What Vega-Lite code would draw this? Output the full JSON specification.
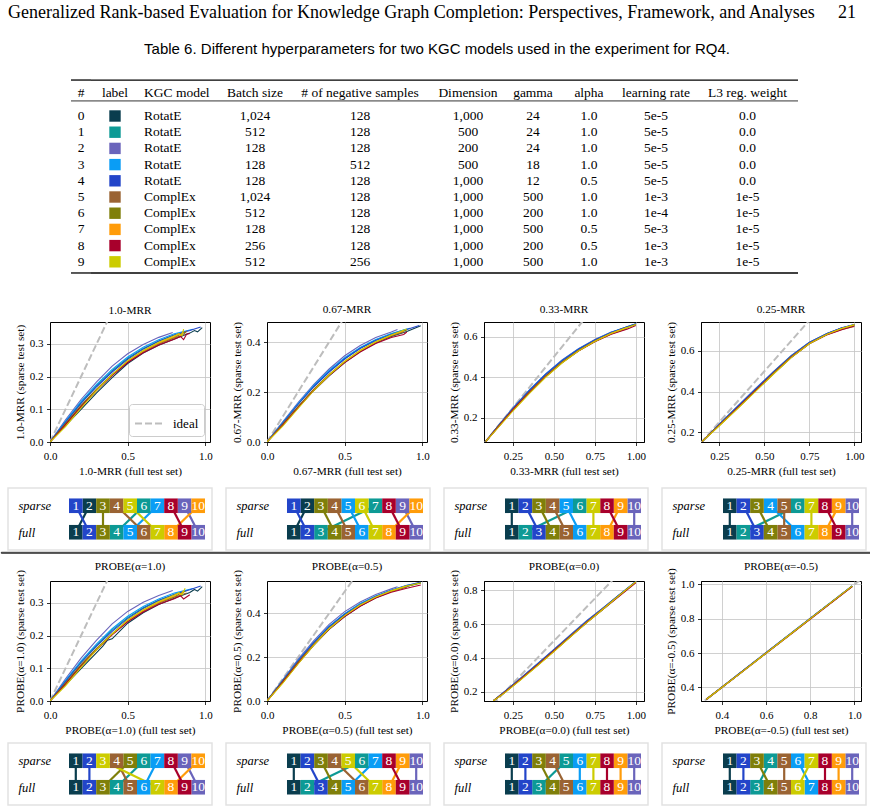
{
  "$schema": "https://vega.github.io/schema/vega-lite/v6.json",
  "background": "white",
  "padding": 0,
  "spacing": 0,
  "bounds": "full",
  "resolve": {"scale": {"strokeDash": "independent"}, "legend": {"strokeDash": "independent"}},
  "config": {
    "view": {"stroke": null},
    "font": "Liberation Serif",
    "text": {"color": "black", "font": "Liberation Serif", "fontSize": 13.5},
    "rule": {"color": "black"},
    "axis": {
      "labelFont": "Liberation Serif", "labelFontSize": 11, "labelColor": "black",
      "titleFont": "Liberation Serif", "titleFontSize": 11.3, "titleFontWeight": "normal", "titleColor": "black",
      "domainColor": "black", "domainWidth": 1, "tickColor": "black", "tickSize": 3.5, "tickWidth": 0.8,
      "gridColor": "#c4c4c4", "gridWidth": 0.8, "labelPadding": 3.5, "titlePadding": 4,
      "labelFlush": false, "labelOverlap": false
    },
    "title": {"font": "Liberation Serif", "fontSize": 11.3, "fontWeight": "normal", "color": "black", "offset": 6}
  },
  "datasets": {
    "table": [
      {"id": 0, "model": "RotatE", "batch": "1,024", "neg": "128", "dim": "1,000", "gamma": "24", "alpha": "1.0", "lr": "5e-5", "l3": "0.0"},
      {"id": 1, "model": "RotatE", "batch": "512", "neg": "128", "dim": "500", "gamma": "24", "alpha": "1.0", "lr": "5e-5", "l3": "0.0"},
      {"id": 2, "model": "RotatE", "batch": "128", "neg": "128", "dim": "200", "gamma": "24", "alpha": "1.0", "lr": "5e-5", "l3": "0.0"},
      {"id": 3, "model": "RotatE", "batch": "128", "neg": "512", "dim": "500", "gamma": "18", "alpha": "1.0", "lr": "5e-5", "l3": "0.0"},
      {"id": 4, "model": "RotatE", "batch": "128", "neg": "128", "dim": "1,000", "gamma": "12", "alpha": "0.5", "lr": "5e-5", "l3": "0.0"},
      {"id": 5, "model": "ComplEx", "batch": "1,024", "neg": "128", "dim": "1,000", "gamma": "500", "alpha": "1.0", "lr": "1e-3", "l3": "1e-5"},
      {"id": 6, "model": "ComplEx", "batch": "512", "neg": "128", "dim": "1,000", "gamma": "200", "alpha": "1.0", "lr": "1e-4", "l3": "1e-5"},
      {"id": 7, "model": "ComplEx", "batch": "128", "neg": "128", "dim": "1,000", "gamma": "500", "alpha": "0.5", "lr": "5e-3", "l3": "1e-5"},
      {"id": 8, "model": "ComplEx", "batch": "256", "neg": "128", "dim": "1,000", "gamma": "200", "alpha": "0.5", "lr": "1e-3", "l3": "1e-5"},
      {"id": 9, "model": "ComplEx", "batch": "512", "neg": "256", "dim": "1,000", "gamma": "500", "alpha": "1.0", "lr": "1e-3", "l3": "1e-5"}
    ],
    "ideal": [{"x": 0, "y": 0}, {"x": 1.05, "y": 1.05}],
    "ranks": [
      {"p": "1.0-MRR", "m": 0, "sparse": 2, "full": 1}, {"p": "1.0-MRR", "m": 1, "sparse": 6, "full": 4}, {"p": "1.0-MRR", "m": 2, "sparse": 9, "full": 10}, {"p": "1.0-MRR", "m": 3, "sparse": 7, "full": 5}, {"p": "1.0-MRR", "m": 4, "sparse": 1, "full": 2},
      {"p": "1.0-MRR", "m": 5, "sparse": 4, "full": 6}, {"p": "1.0-MRR", "m": 6, "sparse": 3, "full": 3}, {"p": "1.0-MRR", "m": 7, "sparse": 10, "full": 8}, {"p": "1.0-MRR", "m": 8, "sparse": 8, "full": 9}, {"p": "1.0-MRR", "m": 9, "sparse": 5, "full": 7},
      {"p": "0.67-MRR", "m": 0, "sparse": 2, "full": 1}, {"p": "0.67-MRR", "m": 1, "sparse": 7, "full": 3}, {"p": "0.67-MRR", "m": 2, "sparse": 9, "full": 10}, {"p": "0.67-MRR", "m": 3, "sparse": 5, "full": 6}, {"p": "0.67-MRR", "m": 4, "sparse": 1, "full": 2},
      {"p": "0.67-MRR", "m": 5, "sparse": 4, "full": 5}, {"p": "0.67-MRR", "m": 6, "sparse": 3, "full": 4}, {"p": "0.67-MRR", "m": 7, "sparse": 10, "full": 8}, {"p": "0.67-MRR", "m": 8, "sparse": 8, "full": 9}, {"p": "0.67-MRR", "m": 9, "sparse": 6, "full": 7},
      {"p": "0.33-MRR", "m": 0, "sparse": 1, "full": 1}, {"p": "0.33-MRR", "m": 1, "sparse": 6, "full": 2}, {"p": "0.33-MRR", "m": 2, "sparse": 10, "full": 10}, {"p": "0.33-MRR", "m": 3, "sparse": 5, "full": 6}, {"p": "0.33-MRR", "m": 4, "sparse": 2, "full": 3},
      {"p": "0.33-MRR", "m": 5, "sparse": 4, "full": 5}, {"p": "0.33-MRR", "m": 6, "sparse": 3, "full": 4}, {"p": "0.33-MRR", "m": 7, "sparse": 9, "full": 8}, {"p": "0.33-MRR", "m": 8, "sparse": 8, "full": 9}, {"p": "0.33-MRR", "m": 9, "sparse": 7, "full": 7},
      {"p": "0.25-MRR", "m": 0, "sparse": 1, "full": 1}, {"p": "0.25-MRR", "m": 1, "sparse": 6, "full": 2}, {"p": "0.25-MRR", "m": 2, "sparse": 10, "full": 10}, {"p": "0.25-MRR", "m": 3, "sparse": 4, "full": 6}, {"p": "0.25-MRR", "m": 4, "sparse": 2, "full": 3},
      {"p": "0.25-MRR", "m": 5, "sparse": 5, "full": 5}, {"p": "0.25-MRR", "m": 6, "sparse": 3, "full": 4}, {"p": "0.25-MRR", "m": 7, "sparse": 9, "full": 8}, {"p": "0.25-MRR", "m": 8, "sparse": 8, "full": 9}, {"p": "0.25-MRR", "m": 9, "sparse": 7, "full": 7},
      {"p": "PROBE(α=1.0)", "m": 0, "sparse": 1, "full": 1}, {"p": "PROBE(α=1.0)", "m": 1, "sparse": 6, "full": 4}, {"p": "PROBE(α=1.0)", "m": 2, "sparse": 9, "full": 10}, {"p": "PROBE(α=1.0)", "m": 3, "sparse": 7, "full": 6}, {"p": "PROBE(α=1.0)", "m": 4, "sparse": 2, "full": 2},
      {"p": "PROBE(α=1.0)", "m": 5, "sparse": 4, "full": 5}, {"p": "PROBE(α=1.0)", "m": 6, "sparse": 5, "full": 3}, {"p": "PROBE(α=1.0)", "m": 7, "sparse": 10, "full": 8}, {"p": "PROBE(α=1.0)", "m": 8, "sparse": 8, "full": 9}, {"p": "PROBE(α=1.0)", "m": 9, "sparse": 3, "full": 7},
      {"p": "PROBE(α=0.5)", "m": 0, "sparse": 1, "full": 1}, {"p": "PROBE(α=0.5)", "m": 1, "sparse": 6, "full": 2}, {"p": "PROBE(α=0.5)", "m": 2, "sparse": 10, "full": 10}, {"p": "PROBE(α=0.5)", "m": 3, "sparse": 7, "full": 5}, {"p": "PROBE(α=0.5)", "m": 4, "sparse": 2, "full": 3},
      {"p": "PROBE(α=0.5)", "m": 5, "sparse": 4, "full": 6}, {"p": "PROBE(α=0.5)", "m": 6, "sparse": 3, "full": 4}, {"p": "PROBE(α=0.5)", "m": 7, "sparse": 9, "full": 8}, {"p": "PROBE(α=0.5)", "m": 8, "sparse": 8, "full": 9}, {"p": "PROBE(α=0.5)", "m": 9, "sparse": 5, "full": 7},
      {"p": "PROBE(α=0.0)", "m": 0, "sparse": 1, "full": 1}, {"p": "PROBE(α=0.0)", "m": 1, "sparse": 5, "full": 3}, {"p": "PROBE(α=0.0)", "m": 2, "sparse": 10, "full": 10}, {"p": "PROBE(α=0.0)", "m": 3, "sparse": 6, "full": 6}, {"p": "PROBE(α=0.0)", "m": 4, "sparse": 2, "full": 2},
      {"p": "PROBE(α=0.0)", "m": 5, "sparse": 4, "full": 5}, {"p": "PROBE(α=0.0)", "m": 6, "sparse": 3, "full": 4}, {"p": "PROBE(α=0.0)", "m": 7, "sparse": 9, "full": 9}, {"p": "PROBE(α=0.0)", "m": 8, "sparse": 8, "full": 8}, {"p": "PROBE(α=0.0)", "m": 9, "sparse": 7, "full": 7},
      {"p": "PROBE(α=-0.5)", "m": 0, "sparse": 1, "full": 1}, {"p": "PROBE(α=-0.5)", "m": 1, "sparse": 4, "full": 3}, {"p": "PROBE(α=-0.5)", "m": 2, "sparse": 10, "full": 10}, {"p": "PROBE(α=-0.5)", "m": 3, "sparse": 6, "full": 7}, {"p": "PROBE(α=-0.5)", "m": 4, "sparse": 2, "full": 2},
      {"p": "PROBE(α=-0.5)", "m": 5, "sparse": 5, "full": 5}, {"p": "PROBE(α=-0.5)", "m": 6, "sparse": 3, "full": 4}, {"p": "PROBE(α=-0.5)", "m": 7, "sparse": 9, "full": 9}, {"p": "PROBE(α=-0.5)", "m": 8, "sparse": 8, "full": 8}, {"p": "PROBE(α=-0.5)", "m": 9, "sparse": 7, "full": 6}
    ],
    "curves": [
      {"p":"1.0-MRR","m":0,"x":0,"y":0},{"p":"1.0-MRR","m":0,"x":0.1,"y":0.05},{"p":"1.0-MRR","m":0,"x":0.2,"y":0.1},{"p":"1.0-MRR","m":0,"x":0.3,"y":0.15},{"p":"1.0-MRR","m":0,"x":0.4,"y":0.197},{"p":"1.0-MRR","m":0,"x":0.5,"y":0.24},{"p":"1.0-MRR","m":0,"x":0.6,"y":0.272},{"p":"1.0-MRR","m":0,"x":0.7,"y":0.296},{"p":"1.0-MRR","m":0,"x":0.8,"y":0.315},{"p":"1.0-MRR","m":0,"x":0.9,"y":0.333},{"p":"1.0-MRR","m":0,"x":0.93,"y":0.341},{"p":"1.0-MRR","m":0,"x":0.95,"y":0.337},{"p":"1.0-MRR","m":0,"x":0.98,"y":0.35},
      {"p":"1.0-MRR","m":1,"x":0,"y":0},{"p":"1.0-MRR","m":1,"x":0.1,"y":0.062},{"p":"1.0-MRR","m":1,"x":0.2,"y":0.121},{"p":"1.0-MRR","m":1,"x":0.3,"y":0.172},{"p":"1.0-MRR","m":1,"x":0.4,"y":0.218},{"p":"1.0-MRR","m":1,"x":0.5,"y":0.256},{"p":"1.0-MRR","m":1,"x":0.6,"y":0.286},{"p":"1.0-MRR","m":1,"x":0.7,"y":0.309},{"p":"1.0-MRR","m":1,"x":0.8,"y":0.327},{"p":"1.0-MRR","m":1,"x":0.88,"y":0.338},
      {"p":"1.0-MRR","m":2,"x":0,"y":0},{"p":"1.0-MRR","m":2,"x":0.1,"y":0.068},{"p":"1.0-MRR","m":2,"x":0.2,"y":0.13},{"p":"1.0-MRR","m":2,"x":0.3,"y":0.184},{"p":"1.0-MRR","m":2,"x":0.4,"y":0.232},{"p":"1.0-MRR","m":2,"x":0.5,"y":0.27},{"p":"1.0-MRR","m":2,"x":0.6,"y":0.298},{"p":"1.0-MRR","m":2,"x":0.7,"y":0.32},{"p":"1.0-MRR","m":2,"x":0.79,"y":0.335},
      {"p":"1.0-MRR","m":3,"x":0,"y":0},{"p":"1.0-MRR","m":3,"x":0.1,"y":0.064},{"p":"1.0-MRR","m":3,"x":0.2,"y":0.124},{"p":"1.0-MRR","m":3,"x":0.3,"y":0.176},{"p":"1.0-MRR","m":3,"x":0.4,"y":0.222},{"p":"1.0-MRR","m":3,"x":0.5,"y":0.26},{"p":"1.0-MRR","m":3,"x":0.6,"y":0.29},{"p":"1.0-MRR","m":3,"x":0.7,"y":0.313},{"p":"1.0-MRR","m":3,"x":0.8,"y":0.331},{"p":"1.0-MRR","m":3,"x":0.92,"y":0.345},
      {"p":"1.0-MRR","m":4,"x":0,"y":0},{"p":"1.0-MRR","m":4,"x":0.1,"y":0.06},{"p":"1.0-MRR","m":4,"x":0.2,"y":0.118},{"p":"1.0-MRR","m":4,"x":0.3,"y":0.169},{"p":"1.0-MRR","m":4,"x":0.4,"y":0.214},{"p":"1.0-MRR","m":4,"x":0.5,"y":0.253},{"p":"1.0-MRR","m":4,"x":0.6,"y":0.284},{"p":"1.0-MRR","m":4,"x":0.7,"y":0.308},{"p":"1.0-MRR","m":4,"x":0.8,"y":0.327},{"p":"1.0-MRR","m":4,"x":0.9,"y":0.341},{"p":"1.0-MRR","m":4,"x":0.97,"y":0.352},
      {"p":"1.0-MRR","m":5,"x":0,"y":0},{"p":"1.0-MRR","m":5,"x":0.1,"y":0.055},{"p":"1.0-MRR","m":5,"x":0.2,"y":0.11},{"p":"1.0-MRR","m":5,"x":0.3,"y":0.16},{"p":"1.0-MRR","m":5,"x":0.4,"y":0.205},{"p":"1.0-MRR","m":5,"x":0.5,"y":0.245},{"p":"1.0-MRR","m":5,"x":0.6,"y":0.276},{"p":"1.0-MRR","m":5,"x":0.7,"y":0.3},{"p":"1.0-MRR","m":5,"x":0.8,"y":0.318},{"p":"1.0-MRR","m":5,"x":0.86,"y":0.328},{"p":"1.0-MRR","m":5,"x":0.88,"y":0.34},
      {"p":"1.0-MRR","m":6,"x":0,"y":0},{"p":"1.0-MRR","m":6,"x":0.1,"y":0.056},{"p":"1.0-MRR","m":6,"x":0.2,"y":0.112},{"p":"1.0-MRR","m":6,"x":0.3,"y":0.162},{"p":"1.0-MRR","m":6,"x":0.4,"y":0.207},{"p":"1.0-MRR","m":6,"x":0.5,"y":0.247},{"p":"1.0-MRR","m":6,"x":0.6,"y":0.278},{"p":"1.0-MRR","m":6,"x":0.7,"y":0.302},{"p":"1.0-MRR","m":6,"x":0.8,"y":0.32},{"p":"1.0-MRR","m":6,"x":0.87,"y":0.336},
      {"p":"1.0-MRR","m":7,"x":0,"y":0},{"p":"1.0-MRR","m":7,"x":0.1,"y":0.05},{"p":"1.0-MRR","m":7,"x":0.2,"y":0.106},{"p":"1.0-MRR","m":7,"x":0.3,"y":0.158},{"p":"1.0-MRR","m":7,"x":0.4,"y":0.205},{"p":"1.0-MRR","m":7,"x":0.5,"y":0.246},{"p":"1.0-MRR","m":7,"x":0.6,"y":0.278},{"p":"1.0-MRR","m":7,"x":0.7,"y":0.303},{"p":"1.0-MRR","m":7,"x":0.8,"y":0.322},{"p":"1.0-MRR","m":7,"x":0.83,"y":0.331},{"p":"1.0-MRR","m":7,"x":0.84,"y":0.324},{"p":"1.0-MRR","m":7,"x":0.86,"y":0.34},
      {"p":"1.0-MRR","m":8,"x":0,"y":0},{"p":"1.0-MRR","m":8,"x":0.1,"y":0.053},{"p":"1.0-MRR","m":8,"x":0.2,"y":0.108},{"p":"1.0-MRR","m":8,"x":0.3,"y":0.158},{"p":"1.0-MRR","m":8,"x":0.4,"y":0.203},{"p":"1.0-MRR","m":8,"x":0.5,"y":0.243},{"p":"1.0-MRR","m":8,"x":0.6,"y":0.273},{"p":"1.0-MRR","m":8,"x":0.7,"y":0.297},{"p":"1.0-MRR","m":8,"x":0.8,"y":0.314},{"p":"1.0-MRR","m":8,"x":0.84,"y":0.323},{"p":"1.0-MRR","m":8,"x":0.86,"y":0.313},{"p":"1.0-MRR","m":8,"x":0.88,"y":0.33},{"p":"1.0-MRR","m":8,"x":0.9,"y":0.332},
      {"p":"1.0-MRR","m":9,"x":0,"y":0},{"p":"1.0-MRR","m":9,"x":0.1,"y":0.047},{"p":"1.0-MRR","m":9,"x":0.2,"y":0.104},{"p":"1.0-MRR","m":9,"x":0.3,"y":0.158},{"p":"1.0-MRR","m":9,"x":0.4,"y":0.206},{"p":"1.0-MRR","m":9,"x":0.5,"y":0.249},{"p":"1.0-MRR","m":9,"x":0.6,"y":0.28},{"p":"1.0-MRR","m":9,"x":0.7,"y":0.305},{"p":"1.0-MRR","m":9,"x":0.8,"y":0.325},{"p":"1.0-MRR","m":9,"x":0.83,"y":0.331},{"p":"1.0-MRR","m":9,"x":0.85,"y":0.326},{"p":"1.0-MRR","m":9,"x":0.86,"y":0.345},

      {"p":"0.67-MRR","m":0,"x":0,"y":0},{"p":"0.67-MRR","m":0,"x":0.1,"y":0.068},{"p":"0.67-MRR","m":0,"x":0.2,"y":0.138},{"p":"0.67-MRR","m":0,"x":0.3,"y":0.205},{"p":"0.67-MRR","m":0,"x":0.4,"y":0.265},{"p":"0.67-MRR","m":0,"x":0.5,"y":0.318},{"p":"0.67-MRR","m":0,"x":0.6,"y":0.362},{"p":"0.67-MRR","m":0,"x":0.7,"y":0.396},{"p":"0.67-MRR","m":0,"x":0.8,"y":0.422},{"p":"0.67-MRR","m":0,"x":0.9,"y":0.442},{"p":"0.67-MRR","m":0,"x":0.99,"y":0.465},
      {"p":"0.67-MRR","m":1,"x":0,"y":0},{"p":"0.67-MRR","m":1,"x":0.1,"y":0.076},{"p":"0.67-MRR","m":1,"x":0.2,"y":0.152},{"p":"0.67-MRR","m":1,"x":0.3,"y":0.222},{"p":"0.67-MRR","m":1,"x":0.4,"y":0.283},{"p":"0.67-MRR","m":1,"x":0.5,"y":0.334},{"p":"0.67-MRR","m":1,"x":0.6,"y":0.376},{"p":"0.67-MRR","m":1,"x":0.7,"y":0.408},{"p":"0.67-MRR","m":1,"x":0.8,"y":0.432},{"p":"0.67-MRR","m":1,"x":0.9,"y":0.452},
      {"p":"0.67-MRR","m":2,"x":0,"y":0},{"p":"0.67-MRR","m":2,"x":0.1,"y":0.08},{"p":"0.67-MRR","m":2,"x":0.2,"y":0.158},{"p":"0.67-MRR","m":2,"x":0.3,"y":0.23},{"p":"0.67-MRR","m":2,"x":0.4,"y":0.292},{"p":"0.67-MRR","m":2,"x":0.5,"y":0.345},{"p":"0.67-MRR","m":2,"x":0.6,"y":0.386},{"p":"0.67-MRR","m":2,"x":0.7,"y":0.418},{"p":"0.67-MRR","m":2,"x":0.8,"y":0.44},{"p":"0.67-MRR","m":2,"x":0.84,"y":0.45},
      {"p":"0.67-MRR","m":3,"x":0,"y":0},{"p":"0.67-MRR","m":3,"x":0.1,"y":0.077},{"p":"0.67-MRR","m":3,"x":0.2,"y":0.154},{"p":"0.67-MRR","m":3,"x":0.3,"y":0.225},{"p":"0.67-MRR","m":3,"x":0.4,"y":0.286},{"p":"0.67-MRR","m":3,"x":0.5,"y":0.337},{"p":"0.67-MRR","m":3,"x":0.6,"y":0.378},{"p":"0.67-MRR","m":3,"x":0.7,"y":0.41},{"p":"0.67-MRR","m":3,"x":0.8,"y":0.434},{"p":"0.67-MRR","m":3,"x":0.92,"y":0.455},
      {"p":"0.67-MRR","m":4,"x":0,"y":0},{"p":"0.67-MRR","m":4,"x":0.1,"y":0.074},{"p":"0.67-MRR","m":4,"x":0.2,"y":0.15},{"p":"0.67-MRR","m":4,"x":0.3,"y":0.22},{"p":"0.67-MRR","m":4,"x":0.4,"y":0.28},{"p":"0.67-MRR","m":4,"x":0.5,"y":0.332},{"p":"0.67-MRR","m":4,"x":0.6,"y":0.374},{"p":"0.67-MRR","m":4,"x":0.7,"y":0.406},{"p":"0.67-MRR","m":4,"x":0.8,"y":0.43},{"p":"0.67-MRR","m":4,"x":0.9,"y":0.45},{"p":"0.67-MRR","m":4,"x":0.98,"y":0.466},
      {"p":"0.67-MRR","m":5,"x":0,"y":0},{"p":"0.67-MRR","m":5,"x":0.1,"y":0.07},{"p":"0.67-MRR","m":5,"x":0.2,"y":0.14},{"p":"0.67-MRR","m":5,"x":0.3,"y":0.208},{"p":"0.67-MRR","m":5,"x":0.4,"y":0.268},{"p":"0.67-MRR","m":5,"x":0.5,"y":0.32},{"p":"0.67-MRR","m":5,"x":0.6,"y":0.364},{"p":"0.67-MRR","m":5,"x":0.7,"y":0.398},{"p":"0.67-MRR","m":5,"x":0.8,"y":0.424},{"p":"0.67-MRR","m":5,"x":0.88,"y":0.44},
      {"p":"0.67-MRR","m":6,"x":0,"y":0},{"p":"0.67-MRR","m":6,"x":0.1,"y":0.07},{"p":"0.67-MRR","m":6,"x":0.2,"y":0.142},{"p":"0.67-MRR","m":6,"x":0.3,"y":0.21},{"p":"0.67-MRR","m":6,"x":0.4,"y":0.27},{"p":"0.67-MRR","m":6,"x":0.5,"y":0.322},{"p":"0.67-MRR","m":6,"x":0.6,"y":0.366},{"p":"0.67-MRR","m":6,"x":0.7,"y":0.4},{"p":"0.67-MRR","m":6,"x":0.8,"y":0.426},{"p":"0.67-MRR","m":6,"x":0.9,"y":0.448},
      {"p":"0.67-MRR","m":7,"x":0,"y":0},{"p":"0.67-MRR","m":7,"x":0.1,"y":0.065},{"p":"0.67-MRR","m":7,"x":0.2,"y":0.136},{"p":"0.67-MRR","m":7,"x":0.3,"y":0.206},{"p":"0.67-MRR","m":7,"x":0.4,"y":0.268},{"p":"0.67-MRR","m":7,"x":0.5,"y":0.322},{"p":"0.67-MRR","m":7,"x":0.6,"y":0.366},{"p":"0.67-MRR","m":7,"x":0.7,"y":0.4},{"p":"0.67-MRR","m":7,"x":0.8,"y":0.427},{"p":"0.67-MRR","m":7,"x":0.88,"y":0.445},
      {"p":"0.67-MRR","m":8,"x":0,"y":0},{"p":"0.67-MRR","m":8,"x":0.1,"y":0.067},{"p":"0.67-MRR","m":8,"x":0.2,"y":0.138},{"p":"0.67-MRR","m":8,"x":0.3,"y":0.206},{"p":"0.67-MRR","m":8,"x":0.4,"y":0.266},{"p":"0.67-MRR","m":8,"x":0.5,"y":0.318},{"p":"0.67-MRR","m":8,"x":0.6,"y":0.36},{"p":"0.67-MRR","m":8,"x":0.7,"y":0.394},{"p":"0.67-MRR","m":8,"x":0.8,"y":0.418},{"p":"0.67-MRR","m":8,"x":0.88,"y":0.43},{"p":"0.67-MRR","m":8,"x":0.9,"y":0.44},
      {"p":"0.67-MRR","m":9,"x":0,"y":0},{"p":"0.67-MRR","m":9,"x":0.1,"y":0.062},{"p":"0.67-MRR","m":9,"x":0.2,"y":0.134},{"p":"0.67-MRR","m":9,"x":0.3,"y":0.205},{"p":"0.67-MRR","m":9,"x":0.4,"y":0.268},{"p":"0.67-MRR","m":9,"x":0.5,"y":0.322},{"p":"0.67-MRR","m":9,"x":0.6,"y":0.366},{"p":"0.67-MRR","m":9,"x":0.7,"y":0.401},{"p":"0.67-MRR","m":9,"x":0.8,"y":0.428},{"p":"0.67-MRR","m":9,"x":0.9,"y":0.452},

      {"p":"0.33-MRR","m":0,"x":0.085,"y":0.085},{"p":"0.33-MRR","m":0,"x":0.15,"y":0.146},{"p":"0.33-MRR","m":0,"x":0.25,"y":0.238},{"p":"0.33-MRR","m":0,"x":0.35,"y":0.324},{"p":"0.33-MRR","m":0,"x":0.45,"y":0.403},{"p":"0.33-MRR","m":0,"x":0.55,"y":0.472},{"p":"0.33-MRR","m":0,"x":0.65,"y":0.53},{"p":"0.33-MRR","m":0,"x":0.75,"y":0.577},{"p":"0.33-MRR","m":0,"x":0.85,"y":0.616},{"p":"0.33-MRR","m":0,"x":0.95,"y":0.647},{"p":"0.33-MRR","m":0,"x":1.0,"y":0.662},
      {"p":"0.33-MRR","m":1,"x":0.085,"y":0.085},{"p":"0.33-MRR","m":1,"x":0.15,"y":0.149},{"p":"0.33-MRR","m":1,"x":0.25,"y":0.245},{"p":"0.33-MRR","m":1,"x":0.35,"y":0.333},{"p":"0.33-MRR","m":1,"x":0.45,"y":0.413},{"p":"0.33-MRR","m":1,"x":0.55,"y":0.481},{"p":"0.33-MRR","m":1,"x":0.65,"y":0.537},{"p":"0.33-MRR","m":1,"x":0.75,"y":0.582},{"p":"0.33-MRR","m":1,"x":0.85,"y":0.62},{"p":"0.33-MRR","m":1,"x":0.95,"y":0.648},
      {"p":"0.33-MRR","m":2,"x":0.085,"y":0.085},{"p":"0.33-MRR","m":2,"x":0.15,"y":0.151},{"p":"0.33-MRR","m":2,"x":0.25,"y":0.248},{"p":"0.33-MRR","m":2,"x":0.35,"y":0.337},{"p":"0.33-MRR","m":2,"x":0.45,"y":0.417},{"p":"0.33-MRR","m":2,"x":0.55,"y":0.485},{"p":"0.33-MRR","m":2,"x":0.65,"y":0.541},{"p":"0.33-MRR","m":2,"x":0.75,"y":0.586},{"p":"0.33-MRR","m":2,"x":0.85,"y":0.623},{"p":"0.33-MRR","m":2,"x":0.95,"y":0.645},
      {"p":"0.33-MRR","m":3,"x":0.085,"y":0.085},{"p":"0.33-MRR","m":3,"x":0.15,"y":0.15},{"p":"0.33-MRR","m":3,"x":0.25,"y":0.247},{"p":"0.33-MRR","m":3,"x":0.35,"y":0.335},{"p":"0.33-MRR","m":3,"x":0.45,"y":0.415},{"p":"0.33-MRR","m":3,"x":0.55,"y":0.483},{"p":"0.33-MRR","m":3,"x":0.65,"y":0.539},{"p":"0.33-MRR","m":3,"x":0.75,"y":0.584},{"p":"0.33-MRR","m":3,"x":0.85,"y":0.621},{"p":"0.33-MRR","m":3,"x":0.95,"y":0.65},{"p":"0.33-MRR","m":3,"x":1.0,"y":0.662},
      {"p":"0.33-MRR","m":4,"x":0.085,"y":0.085},{"p":"0.33-MRR","m":4,"x":0.15,"y":0.15},{"p":"0.33-MRR","m":4,"x":0.25,"y":0.246},{"p":"0.33-MRR","m":4,"x":0.35,"y":0.334},{"p":"0.33-MRR","m":4,"x":0.45,"y":0.414},{"p":"0.33-MRR","m":4,"x":0.55,"y":0.482},{"p":"0.33-MRR","m":4,"x":0.65,"y":0.538},{"p":"0.33-MRR","m":4,"x":0.75,"y":0.583},{"p":"0.33-MRR","m":4,"x":0.85,"y":0.62},{"p":"0.33-MRR","m":4,"x":0.95,"y":0.65},{"p":"0.33-MRR","m":4,"x":1.0,"y":0.663},
      {"p":"0.33-MRR","m":5,"x":0.085,"y":0.085},{"p":"0.33-MRR","m":5,"x":0.15,"y":0.147},{"p":"0.33-MRR","m":5,"x":0.25,"y":0.241},{"p":"0.33-MRR","m":5,"x":0.35,"y":0.327},{"p":"0.33-MRR","m":5,"x":0.45,"y":0.406},{"p":"0.33-MRR","m":5,"x":0.55,"y":0.474},{"p":"0.33-MRR","m":5,"x":0.65,"y":0.531},{"p":"0.33-MRR","m":5,"x":0.75,"y":0.576},{"p":"0.33-MRR","m":5,"x":0.85,"y":0.613},{"p":"0.33-MRR","m":5,"x":0.95,"y":0.64},
      {"p":"0.33-MRR","m":6,"x":0.085,"y":0.085},{"p":"0.33-MRR","m":6,"x":0.15,"y":0.147},{"p":"0.33-MRR","m":6,"x":0.25,"y":0.24},{"p":"0.33-MRR","m":6,"x":0.35,"y":0.326},{"p":"0.33-MRR","m":6,"x":0.45,"y":0.405},{"p":"0.33-MRR","m":6,"x":0.55,"y":0.474},{"p":"0.33-MRR","m":6,"x":0.65,"y":0.532},{"p":"0.33-MRR","m":6,"x":0.75,"y":0.578},{"p":"0.33-MRR","m":6,"x":0.85,"y":0.616},{"p":"0.33-MRR","m":6,"x":0.95,"y":0.646},{"p":"0.33-MRR","m":6,"x":1.0,"y":0.66},
      {"p":"0.33-MRR","m":7,"x":0.085,"y":0.085},{"p":"0.33-MRR","m":7,"x":0.15,"y":0.144},{"p":"0.33-MRR","m":7,"x":0.25,"y":0.236},{"p":"0.33-MRR","m":7,"x":0.35,"y":0.322},{"p":"0.33-MRR","m":7,"x":0.45,"y":0.402},{"p":"0.33-MRR","m":7,"x":0.55,"y":0.471},{"p":"0.33-MRR","m":7,"x":0.65,"y":0.53},{"p":"0.33-MRR","m":7,"x":0.75,"y":0.577},{"p":"0.33-MRR","m":7,"x":0.85,"y":0.616},{"p":"0.33-MRR","m":7,"x":0.95,"y":0.646},
      {"p":"0.33-MRR","m":8,"x":0.085,"y":0.085},{"p":"0.33-MRR","m":8,"x":0.15,"y":0.146},{"p":"0.33-MRR","m":8,"x":0.25,"y":0.239},{"p":"0.33-MRR","m":8,"x":0.35,"y":0.325},{"p":"0.33-MRR","m":8,"x":0.45,"y":0.404},{"p":"0.33-MRR","m":8,"x":0.55,"y":0.472},{"p":"0.33-MRR","m":8,"x":0.65,"y":0.529},{"p":"0.33-MRR","m":8,"x":0.75,"y":0.575},{"p":"0.33-MRR","m":8,"x":0.85,"y":0.612},{"p":"0.33-MRR","m":8,"x":0.95,"y":0.638},{"p":"0.33-MRR","m":8,"x":1.0,"y":0.655},
      {"p":"0.33-MRR","m":9,"x":0.085,"y":0.085},{"p":"0.33-MRR","m":9,"x":0.15,"y":0.143},{"p":"0.33-MRR","m":9,"x":0.25,"y":0.234},{"p":"0.33-MRR","m":9,"x":0.35,"y":0.32},{"p":"0.33-MRR","m":9,"x":0.45,"y":0.4},{"p":"0.33-MRR","m":9,"x":0.55,"y":0.47},{"p":"0.33-MRR","m":9,"x":0.65,"y":0.529},{"p":"0.33-MRR","m":9,"x":0.75,"y":0.576},{"p":"0.33-MRR","m":9,"x":0.85,"y":0.615},{"p":"0.33-MRR","m":9,"x":0.95,"y":0.645},{"p":"0.33-MRR","m":9,"x":1.0,"y":0.66},

      {"p":"0.25-MRR","m":0,"x":0.155,"y":0.155},{"p":"0.25-MRR","m":0,"x":0.25,"y":0.234},{"p":"0.25-MRR","m":0,"x":0.35,"y":0.318},{"p":"0.25-MRR","m":0,"x":0.45,"y":0.403},{"p":"0.25-MRR","m":0,"x":0.55,"y":0.487},{"p":"0.25-MRR","m":0,"x":0.65,"y":0.568},{"p":"0.25-MRR","m":0,"x":0.75,"y":0.636},{"p":"0.25-MRR","m":0,"x":0.85,"y":0.682},{"p":"0.25-MRR","m":0,"x":0.93,"y":0.709},{"p":"0.25-MRR","m":0,"x":1.0,"y":0.728},
      {"p":"0.25-MRR","m":1,"x":0.155,"y":0.155},{"p":"0.25-MRR","m":1,"x":0.25,"y":0.238},{"p":"0.25-MRR","m":1,"x":0.35,"y":0.324},{"p":"0.25-MRR","m":1,"x":0.45,"y":0.41},{"p":"0.25-MRR","m":1,"x":0.55,"y":0.494},{"p":"0.25-MRR","m":1,"x":0.65,"y":0.574},{"p":"0.25-MRR","m":1,"x":0.75,"y":0.64},{"p":"0.25-MRR","m":1,"x":0.85,"y":0.685},{"p":"0.25-MRR","m":1,"x":0.93,"y":0.712},{"p":"0.25-MRR","m":1,"x":1.0,"y":0.727},
      {"p":"0.25-MRR","m":2,"x":0.155,"y":0.155},{"p":"0.25-MRR","m":2,"x":0.25,"y":0.24},{"p":"0.25-MRR","m":2,"x":0.35,"y":0.327},{"p":"0.25-MRR","m":2,"x":0.45,"y":0.414},{"p":"0.25-MRR","m":2,"x":0.55,"y":0.498},{"p":"0.25-MRR","m":2,"x":0.65,"y":0.578},{"p":"0.25-MRR","m":2,"x":0.75,"y":0.643},{"p":"0.25-MRR","m":2,"x":0.85,"y":0.687},{"p":"0.25-MRR","m":2,"x":0.93,"y":0.712},
      {"p":"0.25-MRR","m":3,"x":0.155,"y":0.155},{"p":"0.25-MRR","m":3,"x":0.25,"y":0.24},{"p":"0.25-MRR","m":3,"x":0.35,"y":0.326},{"p":"0.25-MRR","m":3,"x":0.45,"y":0.412},{"p":"0.25-MRR","m":3,"x":0.55,"y":0.496},{"p":"0.25-MRR","m":3,"x":0.65,"y":0.576},{"p":"0.25-MRR","m":3,"x":0.75,"y":0.641},{"p":"0.25-MRR","m":3,"x":0.85,"y":0.686},{"p":"0.25-MRR","m":3,"x":0.93,"y":0.712},{"p":"0.25-MRR","m":3,"x":1.0,"y":0.729},
      {"p":"0.25-MRR","m":4,"x":0.155,"y":0.155},{"p":"0.25-MRR","m":4,"x":0.25,"y":0.239},{"p":"0.25-MRR","m":4,"x":0.35,"y":0.325},{"p":"0.25-MRR","m":4,"x":0.45,"y":0.411},{"p":"0.25-MRR","m":4,"x":0.55,"y":0.495},{"p":"0.25-MRR","m":4,"x":0.65,"y":0.575},{"p":"0.25-MRR","m":4,"x":0.75,"y":0.641},{"p":"0.25-MRR","m":4,"x":0.85,"y":0.686},{"p":"0.25-MRR","m":4,"x":0.93,"y":0.713},{"p":"0.25-MRR","m":4,"x":1.0,"y":0.73},
      {"p":"0.25-MRR","m":5,"x":0.155,"y":0.155},{"p":"0.25-MRR","m":5,"x":0.25,"y":0.236},{"p":"0.25-MRR","m":5,"x":0.35,"y":0.32},{"p":"0.25-MRR","m":5,"x":0.45,"y":0.405},{"p":"0.25-MRR","m":5,"x":0.55,"y":0.489},{"p":"0.25-MRR","m":5,"x":0.65,"y":0.57},{"p":"0.25-MRR","m":5,"x":0.75,"y":0.636},{"p":"0.25-MRR","m":5,"x":0.85,"y":0.681},{"p":"0.25-MRR","m":5,"x":0.93,"y":0.705},{"p":"0.25-MRR","m":5,"x":1.0,"y":0.72},
      {"p":"0.25-MRR","m":6,"x":0.155,"y":0.155},{"p":"0.25-MRR","m":6,"x":0.25,"y":0.235},{"p":"0.25-MRR","m":6,"x":0.35,"y":0.319},{"p":"0.25-MRR","m":6,"x":0.45,"y":0.405},{"p":"0.25-MRR","m":6,"x":0.55,"y":0.49},{"p":"0.25-MRR","m":6,"x":0.65,"y":0.571},{"p":"0.25-MRR","m":6,"x":0.75,"y":0.637},{"p":"0.25-MRR","m":6,"x":0.85,"y":0.683},{"p":"0.25-MRR","m":6,"x":0.93,"y":0.71},{"p":"0.25-MRR","m":6,"x":1.0,"y":0.728},
      {"p":"0.25-MRR","m":7,"x":0.155,"y":0.155},{"p":"0.25-MRR","m":7,"x":0.25,"y":0.233},{"p":"0.25-MRR","m":7,"x":0.35,"y":0.316},{"p":"0.25-MRR","m":7,"x":0.45,"y":0.402},{"p":"0.25-MRR","m":7,"x":0.55,"y":0.487},{"p":"0.25-MRR","m":7,"x":0.65,"y":0.569},{"p":"0.25-MRR","m":7,"x":0.75,"y":0.636},{"p":"0.25-MRR","m":7,"x":0.85,"y":0.682},{"p":"0.25-MRR","m":7,"x":0.93,"y":0.71},{"p":"0.25-MRR","m":7,"x":1.0,"y":0.728},
      {"p":"0.25-MRR","m":8,"x":0.155,"y":0.155},{"p":"0.25-MRR","m":8,"x":0.25,"y":0.235},{"p":"0.25-MRR","m":8,"x":0.35,"y":0.319},{"p":"0.25-MRR","m":8,"x":0.45,"y":0.404},{"p":"0.25-MRR","m":8,"x":0.55,"y":0.488},{"p":"0.25-MRR","m":8,"x":0.65,"y":0.569},{"p":"0.25-MRR","m":8,"x":0.75,"y":0.635},{"p":"0.25-MRR","m":8,"x":0.85,"y":0.68},{"p":"0.25-MRR","m":8,"x":0.93,"y":0.704},{"p":"0.25-MRR","m":8,"x":1.0,"y":0.722},
      {"p":"0.25-MRR","m":9,"x":0.155,"y":0.155},{"p":"0.25-MRR","m":9,"x":0.25,"y":0.232},{"p":"0.25-MRR","m":9,"x":0.35,"y":0.315},{"p":"0.25-MRR","m":9,"x":0.45,"y":0.4},{"p":"0.25-MRR","m":9,"x":0.55,"y":0.485},{"p":"0.25-MRR","m":9,"x":0.65,"y":0.567},{"p":"0.25-MRR","m":9,"x":0.75,"y":0.635},{"p":"0.25-MRR","m":9,"x":0.85,"y":0.682},{"p":"0.25-MRR","m":9,"x":0.93,"y":0.71},{"p":"0.25-MRR","m":9,"x":1.0,"y":0.728},

      {"p":"PROBE(α=1.0)","m":0,"x":0,"y":0},{"p":"PROBE(α=1.0)","m":0,"x":0.1,"y":0.049},{"p":"PROBE(α=1.0)","m":0,"x":0.2,"y":0.099},{"p":"PROBE(α=1.0)","m":0,"x":0.3,"y":0.148},{"p":"PROBE(α=1.0)","m":0,"x":0.34,"y":0.168},{"p":"PROBE(α=1.0)","m":0,"x":0.37,"y":0.186},{"p":"PROBE(α=1.0)","m":0,"x":0.4,"y":0.19},{"p":"PROBE(α=1.0)","m":0,"x":0.5,"y":0.238},{"p":"PROBE(α=1.0)","m":0,"x":0.6,"y":0.27},{"p":"PROBE(α=1.0)","m":0,"x":0.7,"y":0.295},{"p":"PROBE(α=1.0)","m":0,"x":0.8,"y":0.314},{"p":"PROBE(α=1.0)","m":0,"x":0.9,"y":0.332},{"p":"PROBE(α=1.0)","m":0,"x":0.93,"y":0.341},{"p":"PROBE(α=1.0)","m":0,"x":0.95,"y":0.336},{"p":"PROBE(α=1.0)","m":0,"x":0.98,"y":0.35},
      {"p":"PROBE(α=1.0)","m":1,"x":0,"y":0},{"p":"PROBE(α=1.0)","m":1,"x":0.1,"y":0.061},{"p":"PROBE(α=1.0)","m":1,"x":0.2,"y":0.12},{"p":"PROBE(α=1.0)","m":1,"x":0.3,"y":0.171},{"p":"PROBE(α=1.0)","m":1,"x":0.4,"y":0.217},{"p":"PROBE(α=1.0)","m":1,"x":0.5,"y":0.255},{"p":"PROBE(α=1.0)","m":1,"x":0.6,"y":0.285},{"p":"PROBE(α=1.0)","m":1,"x":0.7,"y":0.308},{"p":"PROBE(α=1.0)","m":1,"x":0.8,"y":0.326},{"p":"PROBE(α=1.0)","m":1,"x":0.88,"y":0.338},
      {"p":"PROBE(α=1.0)","m":2,"x":0,"y":0},{"p":"PROBE(α=1.0)","m":2,"x":0.1,"y":0.068},{"p":"PROBE(α=1.0)","m":2,"x":0.2,"y":0.131},{"p":"PROBE(α=1.0)","m":2,"x":0.3,"y":0.186},{"p":"PROBE(α=1.0)","m":2,"x":0.4,"y":0.236},{"p":"PROBE(α=1.0)","m":2,"x":0.5,"y":0.274},{"p":"PROBE(α=1.0)","m":2,"x":0.6,"y":0.302},{"p":"PROBE(α=1.0)","m":2,"x":0.7,"y":0.323},{"p":"PROBE(α=1.0)","m":2,"x":0.79,"y":0.338},
      {"p":"PROBE(α=1.0)","m":3,"x":0,"y":0},{"p":"PROBE(α=1.0)","m":3,"x":0.1,"y":0.063},{"p":"PROBE(α=1.0)","m":3,"x":0.2,"y":0.123},{"p":"PROBE(α=1.0)","m":3,"x":0.3,"y":0.175},{"p":"PROBE(α=1.0)","m":3,"x":0.4,"y":0.221},{"p":"PROBE(α=1.0)","m":3,"x":0.5,"y":0.259},{"p":"PROBE(α=1.0)","m":3,"x":0.6,"y":0.289},{"p":"PROBE(α=1.0)","m":3,"x":0.7,"y":0.312},{"p":"PROBE(α=1.0)","m":3,"x":0.8,"y":0.33},{"p":"PROBE(α=1.0)","m":3,"x":0.92,"y":0.344},
      {"p":"PROBE(α=1.0)","m":4,"x":0,"y":0},{"p":"PROBE(α=1.0)","m":4,"x":0.1,"y":0.059},{"p":"PROBE(α=1.0)","m":4,"x":0.2,"y":0.117},{"p":"PROBE(α=1.0)","m":4,"x":0.3,"y":0.168},{"p":"PROBE(α=1.0)","m":4,"x":0.4,"y":0.213},{"p":"PROBE(α=1.0)","m":4,"x":0.5,"y":0.252},{"p":"PROBE(α=1.0)","m":4,"x":0.6,"y":0.283},{"p":"PROBE(α=1.0)","m":4,"x":0.7,"y":0.307},{"p":"PROBE(α=1.0)","m":4,"x":0.8,"y":0.326},{"p":"PROBE(α=1.0)","m":4,"x":0.9,"y":0.34},{"p":"PROBE(α=1.0)","m":4,"x":0.97,"y":0.352},
      {"p":"PROBE(α=1.0)","m":5,"x":0,"y":0},{"p":"PROBE(α=1.0)","m":5,"x":0.1,"y":0.054},{"p":"PROBE(α=1.0)","m":5,"x":0.2,"y":0.109},{"p":"PROBE(α=1.0)","m":5,"x":0.3,"y":0.159},{"p":"PROBE(α=1.0)","m":5,"x":0.4,"y":0.204},{"p":"PROBE(α=1.0)","m":5,"x":0.5,"y":0.244},{"p":"PROBE(α=1.0)","m":5,"x":0.6,"y":0.275},{"p":"PROBE(α=1.0)","m":5,"x":0.7,"y":0.299},{"p":"PROBE(α=1.0)","m":5,"x":0.8,"y":0.317},{"p":"PROBE(α=1.0)","m":5,"x":0.88,"y":0.33},
      {"p":"PROBE(α=1.0)","m":6,"x":0,"y":0},{"p":"PROBE(α=1.0)","m":6,"x":0.1,"y":0.055},{"p":"PROBE(α=1.0)","m":6,"x":0.2,"y":0.111},{"p":"PROBE(α=1.0)","m":6,"x":0.3,"y":0.161},{"p":"PROBE(α=1.0)","m":6,"x":0.4,"y":0.206},{"p":"PROBE(α=1.0)","m":6,"x":0.5,"y":0.246},{"p":"PROBE(α=1.0)","m":6,"x":0.6,"y":0.277},{"p":"PROBE(α=1.0)","m":6,"x":0.7,"y":0.301},{"p":"PROBE(α=1.0)","m":6,"x":0.8,"y":0.319},{"p":"PROBE(α=1.0)","m":6,"x":0.87,"y":0.336},
      {"p":"PROBE(α=1.0)","m":7,"x":0,"y":0},{"p":"PROBE(α=1.0)","m":7,"x":0.1,"y":0.049},{"p":"PROBE(α=1.0)","m":7,"x":0.2,"y":0.105},{"p":"PROBE(α=1.0)","m":7,"x":0.3,"y":0.157},{"p":"PROBE(α=1.0)","m":7,"x":0.4,"y":0.204},{"p":"PROBE(α=1.0)","m":7,"x":0.5,"y":0.245},{"p":"PROBE(α=1.0)","m":7,"x":0.6,"y":0.277},{"p":"PROBE(α=1.0)","m":7,"x":0.7,"y":0.302},{"p":"PROBE(α=1.0)","m":7,"x":0.8,"y":0.321},{"p":"PROBE(α=1.0)","m":7,"x":0.83,"y":0.33},{"p":"PROBE(α=1.0)","m":7,"x":0.84,"y":0.323},{"p":"PROBE(α=1.0)","m":7,"x":0.86,"y":0.338},
      {"p":"PROBE(α=1.0)","m":8,"x":0,"y":0},{"p":"PROBE(α=1.0)","m":8,"x":0.1,"y":0.052},{"p":"PROBE(α=1.0)","m":8,"x":0.2,"y":0.107},{"p":"PROBE(α=1.0)","m":8,"x":0.3,"y":0.157},{"p":"PROBE(α=1.0)","m":8,"x":0.4,"y":0.202},{"p":"PROBE(α=1.0)","m":8,"x":0.5,"y":0.242},{"p":"PROBE(α=1.0)","m":8,"x":0.6,"y":0.272},{"p":"PROBE(α=1.0)","m":8,"x":0.7,"y":0.296},{"p":"PROBE(α=1.0)","m":8,"x":0.8,"y":0.313},{"p":"PROBE(α=1.0)","m":8,"x":0.84,"y":0.322},{"p":"PROBE(α=1.0)","m":8,"x":0.86,"y":0.312},{"p":"PROBE(α=1.0)","m":8,"x":0.9,"y":0.325},
      {"p":"PROBE(α=1.0)","m":9,"x":0,"y":0},{"p":"PROBE(α=1.0)","m":9,"x":0.1,"y":0.046},{"p":"PROBE(α=1.0)","m":9,"x":0.2,"y":0.103},{"p":"PROBE(α=1.0)","m":9,"x":0.3,"y":0.157},{"p":"PROBE(α=1.0)","m":9,"x":0.4,"y":0.205},{"p":"PROBE(α=1.0)","m":9,"x":0.5,"y":0.248},{"p":"PROBE(α=1.0)","m":9,"x":0.6,"y":0.279},{"p":"PROBE(α=1.0)","m":9,"x":0.7,"y":0.304},{"p":"PROBE(α=1.0)","m":9,"x":0.8,"y":0.324},{"p":"PROBE(α=1.0)","m":9,"x":0.83,"y":0.331},{"p":"PROBE(α=1.0)","m":9,"x":0.85,"y":0.325},{"p":"PROBE(α=1.0)","m":9,"x":0.87,"y":0.345},

      {"p":"PROBE(α=0.5)","m":0,"x":0,"y":0},{"p":"PROBE(α=0.5)","m":0,"x":0.1,"y":0.085},{"p":"PROBE(α=0.5)","m":0,"x":0.2,"y":0.172},{"p":"PROBE(α=0.5)","m":0,"x":0.3,"y":0.254},{"p":"PROBE(α=0.5)","m":0,"x":0.4,"y":0.327},{"p":"PROBE(α=0.5)","m":0,"x":0.5,"y":0.386},{"p":"PROBE(α=0.5)","m":0,"x":0.6,"y":0.434},{"p":"PROBE(α=0.5)","m":0,"x":0.7,"y":0.471},{"p":"PROBE(α=0.5)","m":0,"x":0.8,"y":0.5},{"p":"PROBE(α=0.5)","m":0,"x":0.9,"y":0.523},{"p":"PROBE(α=0.5)","m":0,"x":0.99,"y":0.541},
      {"p":"PROBE(α=0.5)","m":1,"x":0,"y":0},{"p":"PROBE(α=0.5)","m":1,"x":0.1,"y":0.092},{"p":"PROBE(α=0.5)","m":1,"x":0.2,"y":0.183},{"p":"PROBE(α=0.5)","m":1,"x":0.3,"y":0.266},{"p":"PROBE(α=0.5)","m":1,"x":0.4,"y":0.34},{"p":"PROBE(α=0.5)","m":1,"x":0.5,"y":0.397},{"p":"PROBE(α=0.5)","m":1,"x":0.6,"y":0.443},{"p":"PROBE(α=0.5)","m":1,"x":0.7,"y":0.478},{"p":"PROBE(α=0.5)","m":1,"x":0.8,"y":0.505},{"p":"PROBE(α=0.5)","m":1,"x":0.9,"y":0.526},
      {"p":"PROBE(α=0.5)","m":2,"x":0,"y":0},{"p":"PROBE(α=0.5)","m":2,"x":0.1,"y":0.096},{"p":"PROBE(α=0.5)","m":2,"x":0.2,"y":0.19},{"p":"PROBE(α=0.5)","m":2,"x":0.3,"y":0.275},{"p":"PROBE(α=0.5)","m":2,"x":0.4,"y":0.35},{"p":"PROBE(α=0.5)","m":2,"x":0.5,"y":0.408},{"p":"PROBE(α=0.5)","m":2,"x":0.6,"y":0.452},{"p":"PROBE(α=0.5)","m":2,"x":0.7,"y":0.486},{"p":"PROBE(α=0.5)","m":2,"x":0.8,"y":0.512},{"p":"PROBE(α=0.5)","m":2,"x":0.84,"y":0.522},
      {"p":"PROBE(α=0.5)","m":3,"x":0,"y":0},{"p":"PROBE(α=0.5)","m":3,"x":0.1,"y":0.093},{"p":"PROBE(α=0.5)","m":3,"x":0.2,"y":0.185},{"p":"PROBE(α=0.5)","m":3,"x":0.3,"y":0.268},{"p":"PROBE(α=0.5)","m":3,"x":0.4,"y":0.342},{"p":"PROBE(α=0.5)","m":3,"x":0.5,"y":0.399},{"p":"PROBE(α=0.5)","m":3,"x":0.6,"y":0.445},{"p":"PROBE(α=0.5)","m":3,"x":0.7,"y":0.48},{"p":"PROBE(α=0.5)","m":3,"x":0.8,"y":0.507},{"p":"PROBE(α=0.5)","m":3,"x":0.9,"y":0.528},{"p":"PROBE(α=0.5)","m":3,"x":0.99,"y":0.54},
      {"p":"PROBE(α=0.5)","m":4,"x":0,"y":0},{"p":"PROBE(α=0.5)","m":4,"x":0.1,"y":0.091},{"p":"PROBE(α=0.5)","m":4,"x":0.2,"y":0.182},{"p":"PROBE(α=0.5)","m":4,"x":0.3,"y":0.265},{"p":"PROBE(α=0.5)","m":4,"x":0.4,"y":0.338},{"p":"PROBE(α=0.5)","m":4,"x":0.5,"y":0.395},{"p":"PROBE(α=0.5)","m":4,"x":0.6,"y":0.441},{"p":"PROBE(α=0.5)","m":4,"x":0.7,"y":0.477},{"p":"PROBE(α=0.5)","m":4,"x":0.8,"y":0.505},{"p":"PROBE(α=0.5)","m":4,"x":0.9,"y":0.527},{"p":"PROBE(α=0.5)","m":4,"x":0.99,"y":0.543},
      {"p":"PROBE(α=0.5)","m":5,"x":0,"y":0},{"p":"PROBE(α=0.5)","m":5,"x":0.1,"y":0.087},{"p":"PROBE(α=0.5)","m":5,"x":0.2,"y":0.175},{"p":"PROBE(α=0.5)","m":5,"x":0.3,"y":0.257},{"p":"PROBE(α=0.5)","m":5,"x":0.4,"y":0.33},{"p":"PROBE(α=0.5)","m":5,"x":0.5,"y":0.388},{"p":"PROBE(α=0.5)","m":5,"x":0.6,"y":0.435},{"p":"PROBE(α=0.5)","m":5,"x":0.7,"y":0.472},{"p":"PROBE(α=0.5)","m":5,"x":0.8,"y":0.5},{"p":"PROBE(α=0.5)","m":5,"x":0.9,"y":0.52},
      {"p":"PROBE(α=0.5)","m":6,"x":0,"y":0},{"p":"PROBE(α=0.5)","m":6,"x":0.1,"y":0.087},{"p":"PROBE(α=0.5)","m":6,"x":0.2,"y":0.176},{"p":"PROBE(α=0.5)","m":6,"x":0.3,"y":0.258},{"p":"PROBE(α=0.5)","m":6,"x":0.4,"y":0.331},{"p":"PROBE(α=0.5)","m":6,"x":0.5,"y":0.389},{"p":"PROBE(α=0.5)","m":6,"x":0.6,"y":0.436},{"p":"PROBE(α=0.5)","m":6,"x":0.7,"y":0.473},{"p":"PROBE(α=0.5)","m":6,"x":0.8,"y":0.501},{"p":"PROBE(α=0.5)","m":6,"x":0.9,"y":0.524},{"p":"PROBE(α=0.5)","m":6,"x":0.99,"y":0.538},
      {"p":"PROBE(α=0.5)","m":7,"x":0,"y":0},{"p":"PROBE(α=0.5)","m":7,"x":0.1,"y":0.082},{"p":"PROBE(α=0.5)","m":7,"x":0.2,"y":0.171},{"p":"PROBE(α=0.5)","m":7,"x":0.3,"y":0.255},{"p":"PROBE(α=0.5)","m":7,"x":0.4,"y":0.33},{"p":"PROBE(α=0.5)","m":7,"x":0.5,"y":0.389},{"p":"PROBE(α=0.5)","m":7,"x":0.6,"y":0.437},{"p":"PROBE(α=0.5)","m":7,"x":0.7,"y":0.474},{"p":"PROBE(α=0.5)","m":7,"x":0.8,"y":0.503},{"p":"PROBE(α=0.5)","m":7,"x":0.9,"y":0.526},
      {"p":"PROBE(α=0.5)","m":8,"x":0,"y":0},{"p":"PROBE(α=0.5)","m":8,"x":0.1,"y":0.085},{"p":"PROBE(α=0.5)","m":8,"x":0.2,"y":0.173},{"p":"PROBE(α=0.5)","m":8,"x":0.3,"y":0.255},{"p":"PROBE(α=0.5)","m":8,"x":0.4,"y":0.328},{"p":"PROBE(α=0.5)","m":8,"x":0.5,"y":0.386},{"p":"PROBE(α=0.5)","m":8,"x":0.6,"y":0.433},{"p":"PROBE(α=0.5)","m":8,"x":0.7,"y":0.47},{"p":"PROBE(α=0.5)","m":8,"x":0.8,"y":0.497},{"p":"PROBE(α=0.5)","m":8,"x":0.9,"y":0.515},{"p":"PROBE(α=0.5)","m":8,"x":0.99,"y":0.53},
      {"p":"PROBE(α=0.5)","m":9,"x":0,"y":0},{"p":"PROBE(α=0.5)","m":9,"x":0.1,"y":0.08},{"p":"PROBE(α=0.5)","m":9,"x":0.2,"y":0.169},{"p":"PROBE(α=0.5)","m":9,"x":0.3,"y":0.254},{"p":"PROBE(α=0.5)","m":9,"x":0.4,"y":0.33},{"p":"PROBE(α=0.5)","m":9,"x":0.5,"y":0.39},{"p":"PROBE(α=0.5)","m":9,"x":0.6,"y":0.438},{"p":"PROBE(α=0.5)","m":9,"x":0.7,"y":0.475},{"p":"PROBE(α=0.5)","m":9,"x":0.8,"y":0.503},{"p":"PROBE(α=0.5)","m":9,"x":0.9,"y":0.525},{"p":"PROBE(α=0.5)","m":9,"x":0.99,"y":0.54},

      {"p":"PROBE(α=0.0)","m":0,"x":0.13,"y":0.147},{"p":"PROBE(α=0.0)","m":0,"x":0.2,"y":0.197},{"p":"PROBE(α=0.0)","m":0,"x":0.3,"y":0.276},{"p":"PROBE(α=0.0)","m":0,"x":0.4,"y":0.357},{"p":"PROBE(α=0.0)","m":0,"x":0.5,"y":0.44},{"p":"PROBE(α=0.0)","m":0,"x":0.6,"y":0.525},{"p":"PROBE(α=0.0)","m":0,"x":0.7,"y":0.608},{"p":"PROBE(α=0.0)","m":0,"x":0.8,"y":0.687},{"p":"PROBE(α=0.0)","m":0,"x":0.9,"y":0.767},{"p":"PROBE(α=0.0)","m":0,"x":1.0,"y":0.848},
      {"p":"PROBE(α=0.0)","m":1,"x":0.13,"y":0.147},{"p":"PROBE(α=0.0)","m":1,"x":0.2,"y":0.201},{"p":"PROBE(α=0.0)","m":1,"x":0.3,"y":0.281},{"p":"PROBE(α=0.0)","m":1,"x":0.4,"y":0.364},{"p":"PROBE(α=0.0)","m":1,"x":0.5,"y":0.447},{"p":"PROBE(α=0.0)","m":1,"x":0.6,"y":0.532},{"p":"PROBE(α=0.0)","m":1,"x":0.7,"y":0.615},{"p":"PROBE(α=0.0)","m":1,"x":0.8,"y":0.692},{"p":"PROBE(α=0.0)","m":1,"x":0.9,"y":0.771},{"p":"PROBE(α=0.0)","m":1,"x":1.0,"y":0.848},
      {"p":"PROBE(α=0.0)","m":2,"x":0.13,"y":0.147},{"p":"PROBE(α=0.0)","m":2,"x":0.2,"y":0.203},{"p":"PROBE(α=0.0)","m":2,"x":0.3,"y":0.284},{"p":"PROBE(α=0.0)","m":2,"x":0.4,"y":0.367},{"p":"PROBE(α=0.0)","m":2,"x":0.5,"y":0.451},{"p":"PROBE(α=0.0)","m":2,"x":0.6,"y":0.536},{"p":"PROBE(α=0.0)","m":2,"x":0.7,"y":0.619},{"p":"PROBE(α=0.0)","m":2,"x":0.8,"y":0.695},{"p":"PROBE(α=0.0)","m":2,"x":0.9,"y":0.772},
      {"p":"PROBE(α=0.0)","m":3,"x":0.13,"y":0.147},{"p":"PROBE(α=0.0)","m":3,"x":0.2,"y":0.202},{"p":"PROBE(α=0.0)","m":3,"x":0.3,"y":0.282},{"p":"PROBE(α=0.0)","m":3,"x":0.4,"y":0.365},{"p":"PROBE(α=0.0)","m":3,"x":0.5,"y":0.448},{"p":"PROBE(α=0.0)","m":3,"x":0.6,"y":0.533},{"p":"PROBE(α=0.0)","m":3,"x":0.7,"y":0.616},{"p":"PROBE(α=0.0)","m":3,"x":0.8,"y":0.693},{"p":"PROBE(α=0.0)","m":3,"x":0.9,"y":0.772},{"p":"PROBE(α=0.0)","m":3,"x":1.0,"y":0.849},
      {"p":"PROBE(α=0.0)","m":4,"x":0.13,"y":0.147},{"p":"PROBE(α=0.0)","m":4,"x":0.2,"y":0.202},{"p":"PROBE(α=0.0)","m":4,"x":0.3,"y":0.282},{"p":"PROBE(α=0.0)","m":4,"x":0.4,"y":0.364},{"p":"PROBE(α=0.0)","m":4,"x":0.5,"y":0.447},{"p":"PROBE(α=0.0)","m":4,"x":0.6,"y":0.532},{"p":"PROBE(α=0.0)","m":4,"x":0.7,"y":0.615},{"p":"PROBE(α=0.0)","m":4,"x":0.8,"y":0.693},{"p":"PROBE(α=0.0)","m":4,"x":0.9,"y":0.772},{"p":"PROBE(α=0.0)","m":4,"x":1.0,"y":0.85},
      {"p":"PROBE(α=0.0)","m":5,"x":0.13,"y":0.147},{"p":"PROBE(α=0.0)","m":5,"x":0.2,"y":0.199},{"p":"PROBE(α=0.0)","m":5,"x":0.3,"y":0.278},{"p":"PROBE(α=0.0)","m":5,"x":0.4,"y":0.36},{"p":"PROBE(α=0.0)","m":5,"x":0.5,"y":0.443},{"p":"PROBE(α=0.0)","m":5,"x":0.6,"y":0.528},{"p":"PROBE(α=0.0)","m":5,"x":0.7,"y":0.611},{"p":"PROBE(α=0.0)","m":5,"x":0.8,"y":0.689},{"p":"PROBE(α=0.0)","m":5,"x":0.9,"y":0.768},{"p":"PROBE(α=0.0)","m":5,"x":1.0,"y":0.846},
      {"p":"PROBE(α=0.0)","m":6,"x":0.13,"y":0.147},{"p":"PROBE(α=0.0)","m":6,"x":0.2,"y":0.198},{"p":"PROBE(α=0.0)","m":6,"x":0.3,"y":0.277},{"p":"PROBE(α=0.0)","m":6,"x":0.4,"y":0.358},{"p":"PROBE(α=0.0)","m":6,"x":0.5,"y":0.441},{"p":"PROBE(α=0.0)","m":6,"x":0.6,"y":0.526},{"p":"PROBE(α=0.0)","m":6,"x":0.7,"y":0.61},{"p":"PROBE(α=0.0)","m":6,"x":0.8,"y":0.689},{"p":"PROBE(α=0.0)","m":6,"x":0.9,"y":0.769},{"p":"PROBE(α=0.0)","m":6,"x":1.0,"y":0.848},
      {"p":"PROBE(α=0.0)","m":7,"x":0.13,"y":0.147},{"p":"PROBE(α=0.0)","m":7,"x":0.2,"y":0.196},{"p":"PROBE(α=0.0)","m":7,"x":0.3,"y":0.274},{"p":"PROBE(α=0.0)","m":7,"x":0.4,"y":0.355},{"p":"PROBE(α=0.0)","m":7,"x":0.5,"y":0.438},{"p":"PROBE(α=0.0)","m":7,"x":0.6,"y":0.524},{"p":"PROBE(α=0.0)","m":7,"x":0.7,"y":0.608},{"p":"PROBE(α=0.0)","m":7,"x":0.8,"y":0.688},{"p":"PROBE(α=0.0)","m":7,"x":0.9,"y":0.768},{"p":"PROBE(α=0.0)","m":7,"x":1.0,"y":0.847},
      {"p":"PROBE(α=0.0)","m":8,"x":0.13,"y":0.147},{"p":"PROBE(α=0.0)","m":8,"x":0.2,"y":0.198},{"p":"PROBE(α=0.0)","m":8,"x":0.3,"y":0.277},{"p":"PROBE(α=0.0)","m":8,"x":0.4,"y":0.358},{"p":"PROBE(α=0.0)","m":8,"x":0.5,"y":0.441},{"p":"PROBE(α=0.0)","m":8,"x":0.6,"y":0.526},{"p":"PROBE(α=0.0)","m":8,"x":0.7,"y":0.609},{"p":"PROBE(α=0.0)","m":8,"x":0.8,"y":0.687},{"p":"PROBE(α=0.0)","m":8,"x":0.9,"y":0.765},{"p":"PROBE(α=0.0)","m":8,"x":1.0,"y":0.843},
      {"p":"PROBE(α=0.0)","m":9,"x":0.13,"y":0.147},{"p":"PROBE(α=0.0)","m":9,"x":0.2,"y":0.195},{"p":"PROBE(α=0.0)","m":9,"x":0.3,"y":0.273},{"p":"PROBE(α=0.0)","m":9,"x":0.4,"y":0.354},{"p":"PROBE(α=0.0)","m":9,"x":0.5,"y":0.437},{"p":"PROBE(α=0.0)","m":9,"x":0.6,"y":0.523},{"p":"PROBE(α=0.0)","m":9,"x":0.7,"y":0.607},{"p":"PROBE(α=0.0)","m":9,"x":0.8,"y":0.687},{"p":"PROBE(α=0.0)","m":9,"x":0.9,"y":0.768},{"p":"PROBE(α=0.0)","m":9,"x":1.0,"y":0.848},

      {"p":"PROBE(α=-0.5)","m":0,"x":0.33,"y":0.33},{"p":"PROBE(α=-0.5)","m":0,"x":0.5,"y":0.5},{"p":"PROBE(α=-0.5)","m":0,"x":0.7,"y":0.7},{"p":"PROBE(α=-0.5)","m":0,"x":0.85,"y":0.85},{"p":"PROBE(α=-0.5)","m":0,"x":0.99,"y":0.99},
      {"p":"PROBE(α=-0.5)","m":1,"x":0.33,"y":0.33},{"p":"PROBE(α=-0.5)","m":1,"x":0.5,"y":0.501},{"p":"PROBE(α=-0.5)","m":1,"x":0.7,"y":0.701},{"p":"PROBE(α=-0.5)","m":1,"x":0.85,"y":0.851},{"p":"PROBE(α=-0.5)","m":1,"x":0.99,"y":0.99},
      {"p":"PROBE(α=-0.5)","m":2,"x":0.33,"y":0.33},{"p":"PROBE(α=-0.5)","m":2,"x":0.5,"y":0.502},{"p":"PROBE(α=-0.5)","m":2,"x":0.7,"y":0.703},{"p":"PROBE(α=-0.5)","m":2,"x":0.85,"y":0.852},
      {"p":"PROBE(α=-0.5)","m":3,"x":0.33,"y":0.33},{"p":"PROBE(α=-0.5)","m":3,"x":0.5,"y":0.501},{"p":"PROBE(α=-0.5)","m":3,"x":0.7,"y":0.702},{"p":"PROBE(α=-0.5)","m":3,"x":0.85,"y":0.851},{"p":"PROBE(α=-0.5)","m":3,"x":0.99,"y":0.99},
      {"p":"PROBE(α=-0.5)","m":4,"x":0.33,"y":0.33},{"p":"PROBE(α=-0.5)","m":4,"x":0.5,"y":0.501},{"p":"PROBE(α=-0.5)","m":4,"x":0.7,"y":0.701},{"p":"PROBE(α=-0.5)","m":4,"x":0.85,"y":0.851},{"p":"PROBE(α=-0.5)","m":4,"x":0.99,"y":0.991},
      {"p":"PROBE(α=-0.5)","m":5,"x":0.33,"y":0.33},{"p":"PROBE(α=-0.5)","m":5,"x":0.5,"y":0.499},{"p":"PROBE(α=-0.5)","m":5,"x":0.7,"y":0.699},{"p":"PROBE(α=-0.5)","m":5,"x":0.85,"y":0.849},{"p":"PROBE(α=-0.5)","m":5,"x":0.99,"y":0.988},
      {"p":"PROBE(α=-0.5)","m":6,"x":0.33,"y":0.33},{"p":"PROBE(α=-0.5)","m":6,"x":0.5,"y":0.5},{"p":"PROBE(α=-0.5)","m":6,"x":0.7,"y":0.7},{"p":"PROBE(α=-0.5)","m":6,"x":0.85,"y":0.85},{"p":"PROBE(α=-0.5)","m":6,"x":0.99,"y":0.99},
      {"p":"PROBE(α=-0.5)","m":7,"x":0.33,"y":0.33},{"p":"PROBE(α=-0.5)","m":7,"x":0.5,"y":0.499},{"p":"PROBE(α=-0.5)","m":7,"x":0.7,"y":0.699},{"p":"PROBE(α=-0.5)","m":7,"x":0.85,"y":0.849},{"p":"PROBE(α=-0.5)","m":7,"x":0.99,"y":0.989},
      {"p":"PROBE(α=-0.5)","m":8,"x":0.33,"y":0.33},{"p":"PROBE(α=-0.5)","m":8,"x":0.5,"y":0.499},{"p":"PROBE(α=-0.5)","m":8,"x":0.7,"y":0.698},{"p":"PROBE(α=-0.5)","m":8,"x":0.85,"y":0.848},{"p":"PROBE(α=-0.5)","m":8,"x":0.99,"y":0.987},
      {"p":"PROBE(α=-0.5)","m":9,"x":0.33,"y":0.33},{"p":"PROBE(α=-0.5)","m":9,"x":0.5,"y":0.499},{"p":"PROBE(α=-0.5)","m":9,"x":0.7,"y":0.699},{"p":"PROBE(α=-0.5)","m":9,"x":0.85,"y":0.85},{"p":"PROBE(α=-0.5)","m":9,"x":0.99,"y":0.99}
    ]
  },
  "vconcat": [
    {
      "width": 870, "height": 75,
      "data": {"values": [
        {"part": "running title", "text": "Generalized Rank-based Evaluation for Knowledge Graph Completion: Perspectives, Framework, and Analyses"},
        {"part": "page number", "text": "21"},
        {"part": "caption", "text": "Table 6.  Different hyperparameters for two KGC models used in the experiment for RQ4."}
      ]},
      "encoding": {
        "x": {"field": "part", "type": "nominal", "scale": {"type": "point", "domain": ["running title", "caption", "page number"], "range": [7, 855], "padding": 0}, "axis": null},
        "text": {"field": "text"}
      },
      "layer": [
        {"transform": [{"filter": "datum.part === 'running title'"}], "mark": {"type": "text", "align": "left", "baseline": "alphabetic", "fontSize": 18},
         "encoding": {"y": {"datum": "running title", "scale": {"type": "point", "domain": ["running title", "caption"], "range": [18, 54], "padding": 0}, "axis": null}}},
        {"transform": [{"filter": "datum.part === 'page number'"}], "mark": {"type": "text", "align": "right", "baseline": "alphabetic", "fontSize": 18},
         "encoding": {"y": {"datum": "running title", "scale": {"type": "point", "domain": ["running title", "caption"], "range": [18, 54], "padding": 0}, "axis": null}}},
        {"transform": [{"filter": "datum.part === 'caption'"}], "mark": {"type": "text", "align": "center", "baseline": "alphabetic", "fontSize": 15, "font": "Liberation Sans", "dx": 5},
         "encoding": {"y": {"datum": "caption", "scale": {"type": "point", "domain": ["running title", "caption"], "range": [18, 54], "padding": 0}, "axis": null}}}
      ]
    },
    {
      "hconcat": [
        {"width": 70, "height": 228, "data": {"values": []}, "mark": "point"},
        {"width": 20, "height": 228, "layer": [
          {"data": {"values": [{}]}, "mark": {"type": "rule", "strokeWidth": 1.3}, "encoding": {"y": {"datum": -2.22, "scale": {"domain": [-2.531, 11.543], "reverse": true, "nice": false, "zero": false}, "axis": null}}},
          {"data": {"values": [{}]}, "mark": {"type": "rule", "strokeWidth": 0.8}, "encoding": {"y": {"datum": -0.93, "axis": null}}},
          {"data": {"values": [{}]}, "mark": {"type": "rule", "strokeWidth": 1.3}, "encoding": {"y": {"datum": 9.69, "axis": null}}},
          {"data": {"values": [{}]}, "mark": {"type": "text", "text": "#"}, "encoding": {"y": {"datum": -1.42, "axis": null}}},
          {"data": {"name": "table"}, "mark": {"type": "text"}, "encoding": {"y": {"field": "id", "type": "quantitative", "axis": null}, "text": {"field": "id"}}}
        ]},
        {"width": 48, "height": 228, "layer": [
          {"data": {"values": [{}]}, "mark": {"type": "rule", "strokeWidth": 1.3}, "encoding": {"y": {"datum": -2.22, "scale": {"domain": [-2.531, 11.543], "reverse": true, "nice": false, "zero": false}, "axis": null}}},
          {"data": {"values": [{}]}, "mark": {"type": "rule", "strokeWidth": 0.8}, "encoding": {"y": {"datum": -0.93, "axis": null}}},
          {"data": {"values": [{}]}, "mark": {"type": "rule", "strokeWidth": 1.3}, "encoding": {"y": {"datum": 9.69, "axis": null}}},
          {"data": {"values": [{}]}, "mark": {"type": "text", "text": "label"}, "encoding": {"y": {"datum": -1.42, "axis": null}}},
          {"data": {"name": "table"}, "mark": {"type": "square", "size": 130, "opacity": 1, "filled": true}, "encoding": {"y": {"field": "id", "type": "quantitative", "axis": null},
            "color": {"field": "id", "type": "nominal", "scale": {"domain": [0, 1, 2, 3, 4, 5, 6, 7, 8, 9], "range": ["#0a3d4e", "#0d9a95", "#6a64bb", "#0a9df5", "#2345c9", "#9a6333", "#7f7f0a", "#ff9c0a", "#a8002c", "#cccc00"]}, "legend": null}}}
        ]},
        {"width": 84, "height": 228, "layer": [
          {"data": {"values": [{}]}, "mark": {"type": "rule", "strokeWidth": 1.3}, "encoding": {"y": {"datum": -2.22, "scale": {"domain": [-2.531, 11.543], "reverse": true, "nice": false, "zero": false}, "axis": null}}},
          {"data": {"values": [{}]}, "mark": {"type": "rule", "strokeWidth": 0.8}, "encoding": {"y": {"datum": -0.93, "axis": null}}},
          {"data": {"values": [{}]}, "mark": {"type": "rule", "strokeWidth": 1.3}, "encoding": {"y": {"datum": 9.69, "axis": null}}},
          {"data": {"values": [{}]}, "mark": {"type": "text", "text": "KGC model", "align": "left", "dx": -37}, "encoding": {"y": {"datum": -1.42, "axis": null}}},
          {"data": {"name": "table"}, "mark": {"type": "text", "align": "left", "dx": -37}, "encoding": {"y": {"field": "id", "type": "quantitative", "axis": null}, "text": {"field": "model"}}}
        ]},
        {"width": 64, "height": 228, "layer": [
          {"data": {"values": [{}]}, "mark": {"type": "rule", "strokeWidth": 1.3}, "encoding": {"y": {"datum": -2.22, "scale": {"domain": [-2.531, 11.543], "reverse": true, "nice": false, "zero": false}, "axis": null}}},
          {"data": {"values": [{}]}, "mark": {"type": "rule", "strokeWidth": 0.8}, "encoding": {"y": {"datum": -0.93, "axis": null}}},
          {"data": {"values": [{}]}, "mark": {"type": "rule", "strokeWidth": 1.3}, "encoding": {"y": {"datum": 9.69, "axis": null}}},
          {"data": {"values": [{}]}, "mark": {"type": "text", "text": "Batch size"}, "encoding": {"y": {"datum": -1.42, "axis": null}}},
          {"data": {"name": "table"}, "mark": {"type": "text"}, "encoding": {"y": {"field": "id", "type": "quantitative", "axis": null}, "text": {"field": "batch"}}}
        ]},
        {"width": 146, "height": 228, "layer": [
          {"data": {"values": [{}]}, "mark": {"type": "rule", "strokeWidth": 1.3}, "encoding": {"y": {"datum": -2.22, "scale": {"domain": [-2.531, 11.543], "reverse": true, "nice": false, "zero": false}, "axis": null}}},
          {"data": {"values": [{}]}, "mark": {"type": "rule", "strokeWidth": 0.8}, "encoding": {"y": {"datum": -0.93, "axis": null}}},
          {"data": {"values": [{}]}, "mark": {"type": "rule", "strokeWidth": 1.3}, "encoding": {"y": {"datum": 9.69, "axis": null}}},
          {"data": {"values": [{}]}, "mark": {"type": "text", "text": "# of negative samples"}, "encoding": {"y": {"datum": -1.42, "axis": null}}},
          {"data": {"name": "table"}, "mark": {"type": "text"}, "encoding": {"y": {"field": "id", "type": "quantitative", "axis": null}, "text": {"field": "neg"}}}
        ]},
        {"width": 70, "height": 228, "layer": [
          {"data": {"values": [{}]}, "mark": {"type": "rule", "strokeWidth": 1.3}, "encoding": {"y": {"datum": -2.22, "scale": {"domain": [-2.531, 11.543], "reverse": true, "nice": false, "zero": false}, "axis": null}}},
          {"data": {"values": [{}]}, "mark": {"type": "rule", "strokeWidth": 0.8}, "encoding": {"y": {"datum": -0.93, "axis": null}}},
          {"data": {"values": [{}]}, "mark": {"type": "rule", "strokeWidth": 1.3}, "encoding": {"y": {"datum": 9.69, "axis": null}}},
          {"data": {"values": [{}]}, "mark": {"type": "text", "text": "Dimension"}, "encoding": {"y": {"datum": -1.42, "axis": null}}},
          {"data": {"name": "table"}, "mark": {"type": "text"}, "encoding": {"y": {"field": "id", "type": "quantitative", "axis": null}, "text": {"field": "dim"}}}
        ]},
        {"width": 60, "height": 228, "layer": [
          {"data": {"values": [{}]}, "mark": {"type": "rule", "strokeWidth": 1.3}, "encoding": {"y": {"datum": -2.22, "scale": {"domain": [-2.531, 11.543], "reverse": true, "nice": false, "zero": false}, "axis": null}}},
          {"data": {"values": [{}]}, "mark": {"type": "rule", "strokeWidth": 0.8}, "encoding": {"y": {"datum": -0.93, "axis": null}}},
          {"data": {"values": [{}]}, "mark": {"type": "rule", "strokeWidth": 1.3}, "encoding": {"y": {"datum": 9.69, "axis": null}}},
          {"data": {"values": [{}]}, "mark": {"type": "text", "text": "gamma"}, "encoding": {"y": {"datum": -1.42, "axis": null}}},
          {"data": {"name": "table"}, "mark": {"type": "text"}, "encoding": {"y": {"field": "id", "type": "quantitative", "axis": null}, "text": {"field": "gamma"}}}
        ]},
        {"width": 52, "height": 228, "layer": [
          {"data": {"values": [{}]}, "mark": {"type": "rule", "strokeWidth": 1.3}, "encoding": {"y": {"datum": -2.22, "scale": {"domain": [-2.531, 11.543], "reverse": true, "nice": false, "zero": false}, "axis": null}}},
          {"data": {"values": [{}]}, "mark": {"type": "rule", "strokeWidth": 0.8}, "encoding": {"y": {"datum": -0.93, "axis": null}}},
          {"data": {"values": [{}]}, "mark": {"type": "rule", "strokeWidth": 1.3}, "encoding": {"y": {"datum": 9.69, "axis": null}}},
          {"data": {"values": [{}]}, "mark": {"type": "text", "text": "alpha"}, "encoding": {"y": {"datum": -1.42, "axis": null}}},
          {"data": {"name": "table"}, "mark": {"type": "text"}, "encoding": {"y": {"field": "id", "type": "quantitative", "axis": null}, "text": {"field": "alpha"}}}
        ]},
        {"width": 82, "height": 228, "layer": [
          {"data": {"values": [{}]}, "mark": {"type": "rule", "strokeWidth": 1.3}, "encoding": {"y": {"datum": -2.22, "scale": {"domain": [-2.531, 11.543], "reverse": true, "nice": false, "zero": false}, "axis": null}}},
          {"data": {"values": [{}]}, "mark": {"type": "rule", "strokeWidth": 0.8}, "encoding": {"y": {"datum": -0.93, "axis": null}}},
          {"data": {"values": [{}]}, "mark": {"type": "rule", "strokeWidth": 1.3}, "encoding": {"y": {"datum": 9.69, "axis": null}}},
          {"data": {"values": [{}]}, "mark": {"type": "text", "text": "learning rate"}, "encoding": {"y": {"datum": -1.42, "axis": null}}},
          {"data": {"name": "table"}, "mark": {"type": "text"}, "encoding": {"y": {"field": "id", "type": "quantitative", "axis": null}, "text": {"field": "lr"}}}
        ]},
        {"width": 101, "height": 228, "layer": [
          {"data": {"values": [{}]}, "mark": {"type": "rule", "strokeWidth": 1.3}, "encoding": {"y": {"datum": -2.22, "scale": {"domain": [-2.531, 11.543], "reverse": true, "nice": false, "zero": false}, "axis": null}}},
          {"data": {"values": [{}]}, "mark": {"type": "rule", "strokeWidth": 0.8}, "encoding": {"y": {"datum": -0.93, "axis": null}}},
          {"data": {"values": [{}]}, "mark": {"type": "rule", "strokeWidth": 1.3}, "encoding": {"y": {"datum": 9.69, "axis": null}}},
          {"data": {"values": [{}]}, "mark": {"type": "text", "text": "L3 reg. weight"}, "encoding": {"y": {"datum": -1.42, "axis": null}}},
          {"data": {"name": "table"}, "mark": {"type": "text"}, "encoding": {"y": {"field": "id", "type": "quantitative", "axis": null}, "text": {"field": "l3"}}}
        ]}
      ],
      "spacing": 0, "bounds": "flush"
    },
    {
      "hconcat": [
        {"width": 49, "height": 120, "data": {"values": []}, "mark": "point"},
        {
          "hconcat": [
            {
              "width": 160, "height": 120, "title": "1.0-MRR", "view": {"stroke": "black", "strokeWidth": 1},
              "encoding": {
                "x": {"field": "x", "type": "quantitative", "scale": {"domain": [0, 1.03], "nice": false, "zero": false}, "axis": {"title": "1.0-MRR (full test set)", "values": [0, 0.5, 1], "format": ".1f", "grid": true, "labelPadding": 5}},
                "y": {"field": "y", "type": "quantitative", "scale": {"domain": [0, 0.367], "nice": false, "zero": false}, "axis": {"title": "1.0-MRR (sparse test set)", "values": [0, 0.1, 0.2, 0.3], "format": ".1f", "grid": true}}
              },
              "layer": [
                {"data": {"name": "ideal"}, "mark": {"type": "line", "color": "#bdbdbd", "strokeWidth": 2, "clip": true},
                 "encoding": {"strokeDash": {"datum": "ideal", "type": "nominal", "scale": {"domain": ["ideal"], "range": [[7, 3]]},
                   "legend": {"title": null, "orient": "bottom-right", "offset": 6, "fillColor": "rgba(255,255,255,0.85)", "strokeColor": "#cccccc", "cornerRadius": 3, "padding": 5,
                     "symbolType": "stroke", "symbolSize": 729, "symbolStrokeWidth": 2, "symbolStrokeColor": "#bdbdbd", "labelFont": "Liberation Serif", "labelFontSize": 13, "labelColor": "black", "labelOffset": 10}}}},
                {"data": {"name": "curves"}, "transform": [{"filter": "datum.p === '1.0-MRR'"}], "mark": {"type": "line", "strokeWidth": 1.1, "clip": true},
                 "encoding": {"color": {"field": "m", "type": "nominal", "scale": {"domain": [0, 1, 2, 3, 4, 5, 6, 7, 8, 9], "range": ["#0a3d4e", "#0d9a95", "#6a64bb", "#0a9df5", "#2345c9", "#9a6333", "#7f7f0a", "#ff9c0a", "#a8002c", "#cccc00"]}, "legend": null}}}
              ]
            },
            {
              "width": 160, "height": 120, "title": "0.67-MRR", "view": {"stroke": "black", "strokeWidth": 1},
              "encoding": {
                "x": {"field": "x", "type": "quantitative", "scale": {"domain": [0, 1.03], "nice": false, "zero": false}, "axis": {"title": "0.67-MRR (full test set)", "values": [0, 0.5, 1], "format": ".1f", "grid": true, "labelPadding": 5}},
                "y": {"field": "y", "type": "quantitative", "scale": {"domain": [0, 0.48], "nice": false, "zero": false}, "axis": {"title": "0.67-MRR (sparse test set)", "values": [0, 0.2, 0.4], "format": ".1f", "grid": true}}
              },
              "layer": [
                {"data": {"name": "ideal"}, "mark": {"type": "line", "color": "#bdbdbd", "strokeWidth": 2, "strokeDash": [7, 3], "clip": true}},
                {"data": {"name": "curves"}, "transform": [{"filter": "datum.p === '0.67-MRR'"}], "mark": {"type": "line", "strokeWidth": 1.1, "clip": true},
                 "encoding": {"color": {"field": "m", "type": "nominal", "scale": {"domain": [0, 1, 2, 3, 4, 5, 6, 7, 8, 9], "range": ["#0a3d4e", "#0d9a95", "#6a64bb", "#0a9df5", "#2345c9", "#9a6333", "#7f7f0a", "#ff9c0a", "#a8002c", "#cccc00"]}, "legend": null}}}
              ]
            },
            {
              "width": 160, "height": 120, "title": "0.33-MRR", "view": {"stroke": "black", "strokeWidth": 1},
              "encoding": {
                "x": {"field": "x", "type": "quantitative", "scale": {"domain": [0.074, 1.05], "nice": false, "zero": false}, "axis": {"title": "0.33-MRR (full test set)", "values": [0.25, 0.5, 0.75, 1], "format": ".2f", "grid": true, "labelPadding": 5}},
                "y": {"field": "y", "type": "quantitative", "scale": {"domain": [0.0815, 0.672], "nice": false, "zero": false}, "axis": {"title": "0.33-MRR (sparse test set)", "values": [0.2, 0.4, 0.6], "format": ".1f", "grid": true}}
              },
              "layer": [
                {"data": {"name": "ideal"}, "mark": {"type": "line", "color": "#bdbdbd", "strokeWidth": 2, "strokeDash": [7, 3], "clip": true}},
                {"data": {"name": "curves"}, "transform": [{"filter": "datum.p === '0.33-MRR'"}], "mark": {"type": "line", "strokeWidth": 1.1, "clip": true},
                 "encoding": {"color": {"field": "m", "type": "nominal", "scale": {"domain": [0, 1, 2, 3, 4, 5, 6, 7, 8, 9], "range": ["#0a3d4e", "#0d9a95", "#6a64bb", "#0a9df5", "#2345c9", "#9a6333", "#7f7f0a", "#ff9c0a", "#a8002c", "#cccc00"]}, "legend": null}}}
              ]
            },
            {
              "width": 160, "height": 120, "title": "0.25-MRR", "view": {"stroke": "black", "strokeWidth": 1},
              "encoding": {
                "x": {"field": "x", "type": "quantitative", "scale": {"domain": [0.148, 1.037], "nice": false, "zero": false}, "axis": {"title": "0.25-MRR (full test set)", "values": [0.25, 0.5, 0.75, 1], "format": ".2f", "grid": true, "labelPadding": 5}},
                "y": {"field": "y", "type": "quantitative", "scale": {"domain": [0.152, 0.742], "nice": false, "zero": false}, "axis": {"title": "0.25-MRR (sparse test set)", "values": [0.2, 0.4, 0.6], "format": ".1f", "grid": true}}
              },
              "layer": [
                {"data": {"name": "ideal"}, "mark": {"type": "line", "color": "#bdbdbd", "strokeWidth": 2, "strokeDash": [7, 3], "clip": true}},
                {"data": {"name": "curves"}, "transform": [{"filter": "datum.p === '0.25-MRR'"}], "mark": {"type": "line", "strokeWidth": 1.1, "clip": true},
                 "encoding": {"color": {"field": "m", "type": "nominal", "scale": {"domain": [0, 1, 2, 3, 4, 5, 6, 7, 8, 9], "range": ["#0a3d4e", "#0d9a95", "#6a64bb", "#0a9df5", "#2345c9", "#9a6333", "#7f7f0a", "#ff9c0a", "#a8002c", "#cccc00"]}, "legend": null}}}
              ]
            }
          ],
          "spacing": 57, "bounds": "flush",
          "resolve": {"scale": {"strokeDash": "independent"}, "legend": {"strokeDash": "independent"}}
        }
      ],
      "spacing": 0, "bounds": "flush",
      "resolve": {"scale": {"strokeDash": "independent"}, "legend": {"strokeDash": "independent"}}
    },
    {"width": 1, "height": 9, "data": {"values": []}, "mark": "point"},
    {
      "hconcat": [
        {"width": 7, "height": 62, "data": {"values": []}, "mark": "point"},
        {
          "hconcat": [
            {"width": 204, "height": 62, "view": {"stroke": "#e2e2e2", "strokeWidth": 1.5}, "data": {"name": "ranks"}, "transform": [{"filter": "datum.p === '1.0-MRR'"}],
             "layer": [
               {"mark": {"type": "rule", "strokeWidth": 2.2}, "encoding": {
                 "x": {"field": "sparse", "type": "quantitative", "scale": {"domain": [-3.985, 11.015], "nice": false, "zero": false}, "axis": null}, "x2": {"field": "full"},
                 "y": {"datum": "sparse", "type": "nominal", "scale": {"type": "point", "domain": ["sparse", "full"], "padding": 0.67}, "axis": {"title": null, "domain": false, "ticks": false, "tickSize": 0, "labelPadding": -10, "labelAlign": "left", "labelFontStyle": "italic", "labelFontSize": 12.5, "grid": false}},
                 "y2": {"datum": "full"},
                 "color": {"field": "m", "type": "nominal", "scale": {"domain": [0, 1, 2, 3, 4, 5, 6, 7, 8, 9], "range": ["#0a3d4e", "#0d9a95", "#6a64bb", "#0a9df5", "#2345c9", "#9a6333", "#7f7f0a", "#ff9c0a", "#a8002c", "#cccc00"]}, "legend": null}}},
               {"transform": [{"fold": ["sparse", "full"], "as": ["row", "rank"]}],
                "encoding": {
                  "x": {"field": "rank", "type": "quantitative", "scale": {"domain": [-3.985, 11.015], "nice": false, "zero": false}, "axis": null},
                  "y": {"field": "row", "type": "nominal", "scale": {"type": "point", "domain": ["sparse", "full"], "padding": 0.67}, "axis": {"title": null, "domain": false, "ticks": false, "tickSize": 0, "labelPadding": -10, "labelAlign": "left", "labelFontStyle": "italic", "labelFontSize": 12.5, "grid": false}}},
                "layer": [
                  {"mark": {"type": "tick", "thickness": 13.6, "size": 14.6, "opacity": 1}, "encoding": {"color": {"field": "m", "type": "nominal", "scale": {"domain": [0, 1, 2, 3, 4, 5, 6, 7, 8, 9], "range": ["#0a3d4e", "#0d9a95", "#6a64bb", "#0a9df5", "#2345c9", "#9a6333", "#7f7f0a", "#ff9c0a", "#a8002c", "#cccc00"]}, "legend": null}}},
                  {"mark": {"type": "text", "color": "white", "fontSize": 13.5}, "encoding": {"text": {"field": "rank"}}}
                ]}
             ]},
            {"width": 204, "height": 62, "view": {"stroke": "#e2e2e2", "strokeWidth": 1.5}, "data": {"name": "ranks"}, "transform": [{"filter": "datum.p === '0.67-MRR'"}],
             "layer": [
               {"mark": {"type": "rule", "strokeWidth": 2.2}, "encoding": {
                 "x": {"field": "sparse", "type": "quantitative", "scale": {"domain": [-3.985, 11.015], "nice": false, "zero": false}, "axis": null}, "x2": {"field": "full"},
                 "y": {"datum": "sparse", "type": "nominal", "scale": {"type": "point", "domain": ["sparse", "full"], "padding": 0.67}, "axis": {"title": null, "domain": false, "ticks": false, "tickSize": 0, "labelPadding": -10, "labelAlign": "left", "labelFontStyle": "italic", "labelFontSize": 12.5, "grid": false}},
                 "y2": {"datum": "full"},
                 "color": {"field": "m", "type": "nominal", "scale": {"domain": [0, 1, 2, 3, 4, 5, 6, 7, 8, 9], "range": ["#0a3d4e", "#0d9a95", "#6a64bb", "#0a9df5", "#2345c9", "#9a6333", "#7f7f0a", "#ff9c0a", "#a8002c", "#cccc00"]}, "legend": null}}},
               {"transform": [{"fold": ["sparse", "full"], "as": ["row", "rank"]}],
                "encoding": {
                  "x": {"field": "rank", "type": "quantitative", "scale": {"domain": [-3.985, 11.015], "nice": false, "zero": false}, "axis": null},
                  "y": {"field": "row", "type": "nominal", "scale": {"type": "point", "domain": ["sparse", "full"], "padding": 0.67}, "axis": {"title": null, "domain": false, "ticks": false, "tickSize": 0, "labelPadding": -10, "labelAlign": "left", "labelFontStyle": "italic", "labelFontSize": 12.5, "grid": false}}},
                "layer": [
                  {"mark": {"type": "tick", "thickness": 13.6, "size": 14.6, "opacity": 1}, "encoding": {"color": {"field": "m", "type": "nominal", "scale": {"domain": [0, 1, 2, 3, 4, 5, 6, 7, 8, 9], "range": ["#0a3d4e", "#0d9a95", "#6a64bb", "#0a9df5", "#2345c9", "#9a6333", "#7f7f0a", "#ff9c0a", "#a8002c", "#cccc00"]}, "legend": null}}},
                  {"mark": {"type": "text", "color": "white", "fontSize": 13.5}, "encoding": {"text": {"field": "rank"}}}
                ]}
             ]},
            {"width": 204, "height": 62, "view": {"stroke": "#e2e2e2", "strokeWidth": 1.5}, "data": {"name": "ranks"}, "transform": [{"filter": "datum.p === '0.33-MRR'"}],
             "layer": [
               {"mark": {"type": "rule", "strokeWidth": 2.2}, "encoding": {
                 "x": {"field": "sparse", "type": "quantitative", "scale": {"domain": [-3.985, 11.015], "nice": false, "zero": false}, "axis": null}, "x2": {"field": "full"},
                 "y": {"datum": "sparse", "type": "nominal", "scale": {"type": "point", "domain": ["sparse", "full"], "padding": 0.67}, "axis": {"title": null, "domain": false, "ticks": false, "tickSize": 0, "labelPadding": -10, "labelAlign": "left", "labelFontStyle": "italic", "labelFontSize": 12.5, "grid": false}},
                 "y2": {"datum": "full"},
                 "color": {"field": "m", "type": "nominal", "scale": {"domain": [0, 1, 2, 3, 4, 5, 6, 7, 8, 9], "range": ["#0a3d4e", "#0d9a95", "#6a64bb", "#0a9df5", "#2345c9", "#9a6333", "#7f7f0a", "#ff9c0a", "#a8002c", "#cccc00"]}, "legend": null}}},
               {"transform": [{"fold": ["sparse", "full"], "as": ["row", "rank"]}],
                "encoding": {
                  "x": {"field": "rank", "type": "quantitative", "scale": {"domain": [-3.985, 11.015], "nice": false, "zero": false}, "axis": null},
                  "y": {"field": "row", "type": "nominal", "scale": {"type": "point", "domain": ["sparse", "full"], "padding": 0.67}, "axis": {"title": null, "domain": false, "ticks": false, "tickSize": 0, "labelPadding": -10, "labelAlign": "left", "labelFontStyle": "italic", "labelFontSize": 12.5, "grid": false}}},
                "layer": [
                  {"mark": {"type": "tick", "thickness": 13.6, "size": 14.6, "opacity": 1}, "encoding": {"color": {"field": "m", "type": "nominal", "scale": {"domain": [0, 1, 2, 3, 4, 5, 6, 7, 8, 9], "range": ["#0a3d4e", "#0d9a95", "#6a64bb", "#0a9df5", "#2345c9", "#9a6333", "#7f7f0a", "#ff9c0a", "#a8002c", "#cccc00"]}, "legend": null}}},
                  {"mark": {"type": "text", "color": "white", "fontSize": 13.5}, "encoding": {"text": {"field": "rank"}}}
                ]}
             ]},
            {"width": 204, "height": 62, "view": {"stroke": "#e2e2e2", "strokeWidth": 1.5}, "data": {"name": "ranks"}, "transform": [{"filter": "datum.p === '0.25-MRR'"}],
             "layer": [
               {"mark": {"type": "rule", "strokeWidth": 2.2}, "encoding": {
                 "x": {"field": "sparse", "type": "quantitative", "scale": {"domain": [-3.985, 11.015], "nice": false, "zero": false}, "axis": null}, "x2": {"field": "full"},
                 "y": {"datum": "sparse", "type": "nominal", "scale": {"type": "point", "domain": ["sparse", "full"], "padding": 0.67}, "axis": {"title": null, "domain": false, "ticks": false, "tickSize": 0, "labelPadding": -10, "labelAlign": "left", "labelFontStyle": "italic", "labelFontSize": 12.5, "grid": false}},
                 "y2": {"datum": "full"},
                 "color": {"field": "m", "type": "nominal", "scale": {"domain": [0, 1, 2, 3, 4, 5, 6, 7, 8, 9], "range": ["#0a3d4e", "#0d9a95", "#6a64bb", "#0a9df5", "#2345c9", "#9a6333", "#7f7f0a", "#ff9c0a", "#a8002c", "#cccc00"]}, "legend": null}}},
               {"transform": [{"fold": ["sparse", "full"], "as": ["row", "rank"]}],
                "encoding": {
                  "x": {"field": "rank", "type": "quantitative", "scale": {"domain": [-3.985, 11.015], "nice": false, "zero": false}, "axis": null},
                  "y": {"field": "row", "type": "nominal", "scale": {"type": "point", "domain": ["sparse", "full"], "padding": 0.67}, "axis": {"title": null, "domain": false, "ticks": false, "tickSize": 0, "labelPadding": -10, "labelAlign": "left", "labelFontStyle": "italic", "labelFontSize": 12.5, "grid": false}}},
                "layer": [
                  {"mark": {"type": "tick", "thickness": 13.6, "size": 14.6, "opacity": 1}, "encoding": {"color": {"field": "m", "type": "nominal", "scale": {"domain": [0, 1, 2, 3, 4, 5, 6, 7, 8, 9], "range": ["#0a3d4e", "#0d9a95", "#6a64bb", "#0a9df5", "#2345c9", "#9a6333", "#7f7f0a", "#ff9c0a", "#a8002c", "#cccc00"]}, "legend": null}}},
                  {"mark": {"type": "text", "color": "white", "fontSize": 13.5}, "encoding": {"text": {"field": "rank"}}}
                ]}
             ]}
          ],
          "spacing": 14, "bounds": "flush"
        }
      ],
      "spacing": 0, "bounds": "flush"
    },
    {"width": 870, "height": 1, "view": {"stroke": "black", "strokeWidth": 0.8}, "data": {"values": []}, "mark": "point"},
    {"width": 1, "height": 6, "data": {"values": []}, "mark": "point"},
    {
      "hconcat": [
        {"width": 49, "height": 120, "data": {"values": []}, "mark": "point"},
        {
          "hconcat": [
            {
              "width": 160, "height": 120, "title": {"text": "PROBE(α=1.0)", "offset": -2.5}, "view": {"stroke": "black", "strokeWidth": 1},
              "encoding": {
                "x": {"field": "x", "type": "quantitative", "scale": {"domain": [0, 1.03], "nice": false, "zero": false}, "axis": {"title": "PROBE(α=1.0) (full test set)", "values": [0, 0.5, 1], "format": ".1f", "grid": true, "labelPadding": 5}},
                "y": {"field": "y", "type": "quantitative", "scale": {"domain": [0, 0.367], "nice": false, "zero": false}, "axis": {"title": "PROBE(α=1.0) (sparse test set)", "values": [0, 0.1, 0.2, 0.3], "format": ".1f", "grid": true}}
              },
              "layer": [
                {"data": {"name": "ideal"}, "mark": {"type": "line", "color": "#bdbdbd", "strokeWidth": 2, "strokeDash": [7, 3], "clip": true}},
                {"data": {"name": "curves"}, "transform": [{"filter": "datum.p === 'PROBE(α=1.0)'"}], "mark": {"type": "line", "strokeWidth": 1.1, "clip": true},
                 "encoding": {"color": {"field": "m", "type": "nominal", "scale": {"domain": [0, 1, 2, 3, 4, 5, 6, 7, 8, 9], "range": ["#0a3d4e", "#0d9a95", "#6a64bb", "#0a9df5", "#2345c9", "#9a6333", "#7f7f0a", "#ff9c0a", "#a8002c", "#cccc00"]}, "legend": null}}}
              ]
            },
            {
              "width": 160, "height": 120, "title": {"text": "PROBE(α=0.5)", "offset": -2.5}, "view": {"stroke": "black", "strokeWidth": 1},
              "encoding": {
                "x": {"field": "x", "type": "quantitative", "scale": {"domain": [0, 1.03], "nice": false, "zero": false}, "axis": {"title": "PROBE(α=0.5) (full test set)", "values": [0, 0.5, 1], "format": ".1f", "grid": true, "labelPadding": 5}},
                "y": {"field": "y", "type": "quantitative", "scale": {"domain": [0, 0.548], "nice": false, "zero": false}, "axis": {"title": "PROBE(α=0.5) (sparse test set)", "values": [0, 0.2, 0.4], "format": ".1f", "grid": true}}
              },
              "layer": [
                {"data": {"name": "ideal"}, "mark": {"type": "line", "color": "#bdbdbd", "strokeWidth": 2, "strokeDash": [7, 3], "clip": true}},
                {"data": {"name": "curves"}, "transform": [{"filter": "datum.p === 'PROBE(α=0.5)'"}], "mark": {"type": "line", "strokeWidth": 1.1, "clip": true},
                 "encoding": {"color": {"field": "m", "type": "nominal", "scale": {"domain": [0, 1, 2, 3, 4, 5, 6, 7, 8, 9], "range": ["#0a3d4e", "#0d9a95", "#6a64bb", "#0a9df5", "#2345c9", "#9a6333", "#7f7f0a", "#ff9c0a", "#a8002c", "#cccc00"]}, "legend": null}}}
              ]
            },
            {
              "width": 160, "height": 120, "title": {"text": "PROBE(α=0.0)", "offset": -2.5}, "view": {"stroke": "black", "strokeWidth": 1},
              "encoding": {
                "x": {"field": "x", "type": "quantitative", "scale": {"domain": [0.074, 1.05], "nice": false, "zero": false}, "axis": {"title": "PROBE(α=0.0) (full test set)", "values": [0.25, 0.5, 0.75, 1], "format": ".2f", "grid": true, "labelPadding": 5}},
                "y": {"field": "y", "type": "quantitative", "scale": {"domain": [0.147, 0.853], "nice": false, "zero": false}, "axis": {"title": "PROBE(α=0.0) (sparse test set)", "values": [0.2, 0.4, 0.6, 0.8], "format": ".1f", "grid": true}}
              },
              "layer": [
                {"data": {"name": "ideal"}, "mark": {"type": "line", "color": "#bdbdbd", "strokeWidth": 2, "strokeDash": [7, 3], "clip": true}},
                {"data": {"name": "curves"}, "transform": [{"filter": "datum.p === 'PROBE(α=0.0)'"}], "mark": {"type": "line", "strokeWidth": 1.1, "clip": true},
                 "encoding": {"color": {"field": "m", "type": "nominal", "scale": {"domain": [0, 1, 2, 3, 4, 5, 6, 7, 8, 9], "range": ["#0a3d4e", "#0d9a95", "#6a64bb", "#0a9df5", "#2345c9", "#9a6333", "#7f7f0a", "#ff9c0a", "#a8002c", "#cccc00"]}, "legend": null}}}
              ]
            },
            {
              "width": 160, "height": 120, "title": {"text": "PROBE(α=-0.5)", "offset": -4.5}, "view": {"stroke": "black", "strokeWidth": 1},
              "encoding": {
                "x": {"field": "x", "type": "quantitative", "scale": {"domain": [0.305, 1.03], "nice": false, "zero": false}, "axis": {"title": "PROBE(α=-0.5) (full test set)", "values": [0.4, 0.6, 0.8, 1], "format": ".1f", "grid": true, "labelPadding": 5}},
                "y": {"field": "y", "type": "quantitative", "scale": {"domain": [0.32, 1.02], "nice": false, "zero": false}, "axis": {"title": "PROBE(α=-0.5) (sparse test set)", "values": [0.4, 0.6, 0.8, 1], "format": ".1f", "grid": true}}
              },
              "layer": [
                {"data": {"name": "ideal"}, "mark": {"type": "line", "color": "#bdbdbd", "strokeWidth": 2, "strokeDash": [7, 3], "clip": true}},
                {"data": {"name": "curves"}, "transform": [{"filter": "datum.p === 'PROBE(α=-0.5)'"}], "mark": {"type": "line", "strokeWidth": 1.1, "clip": true},
                 "encoding": {"color": {"field": "m", "type": "nominal", "scale": {"domain": [0, 1, 2, 3, 4, 5, 6, 7, 8, 9], "range": ["#0a3d4e", "#0d9a95", "#6a64bb", "#0a9df5", "#2345c9", "#9a6333", "#7f7f0a", "#ff9c0a", "#a8002c", "#cccc00"]}, "legend": null}}}
              ]
            }
          ],
          "spacing": 57, "bounds": "flush"
        }
      ],
      "spacing": 0, "bounds": "flush"
    },
    {"width": 1, "height": 5, "data": {"values": []}, "mark": "point"},
    {
      "hconcat": [
        {"width": 7, "height": 62, "data": {"values": []}, "mark": "point"},
        {
          "hconcat": [
            {"width": 204, "height": 62, "view": {"stroke": "#e2e2e2", "strokeWidth": 1.5}, "data": {"name": "ranks"}, "transform": [{"filter": "datum.p === 'PROBE(α=1.0)'"}],
             "layer": [
               {"mark": {"type": "rule", "strokeWidth": 2.2}, "encoding": {
                 "x": {"field": "sparse", "type": "quantitative", "scale": {"domain": [-3.985, 11.015], "nice": false, "zero": false}, "axis": null}, "x2": {"field": "full"},
                 "y": {"datum": "sparse", "type": "nominal", "scale": {"type": "point", "domain": ["sparse", "full"], "padding": 0.67}, "axis": {"title": null, "domain": false, "ticks": false, "tickSize": 0, "labelPadding": -10, "labelAlign": "left", "labelFontStyle": "italic", "labelFontSize": 12.5, "grid": false}},
                 "y2": {"datum": "full"},
                 "color": {"field": "m", "type": "nominal", "scale": {"domain": [0, 1, 2, 3, 4, 5, 6, 7, 8, 9], "range": ["#0a3d4e", "#0d9a95", "#6a64bb", "#0a9df5", "#2345c9", "#9a6333", "#7f7f0a", "#ff9c0a", "#a8002c", "#cccc00"]}, "legend": null}}},
               {"transform": [{"fold": ["sparse", "full"], "as": ["row", "rank"]}],
                "encoding": {
                  "x": {"field": "rank", "type": "quantitative", "scale": {"domain": [-3.985, 11.015], "nice": false, "zero": false}, "axis": null},
                  "y": {"field": "row", "type": "nominal", "scale": {"type": "point", "domain": ["sparse", "full"], "padding": 0.67}, "axis": {"title": null, "domain": false, "ticks": false, "tickSize": 0, "labelPadding": -10, "labelAlign": "left", "labelFontStyle": "italic", "labelFontSize": 12.5, "grid": false}}},
                "layer": [
                  {"mark": {"type": "tick", "thickness": 13.6, "size": 14.6, "opacity": 1}, "encoding": {"color": {"field": "m", "type": "nominal", "scale": {"domain": [0, 1, 2, 3, 4, 5, 6, 7, 8, 9], "range": ["#0a3d4e", "#0d9a95", "#6a64bb", "#0a9df5", "#2345c9", "#9a6333", "#7f7f0a", "#ff9c0a", "#a8002c", "#cccc00"]}, "legend": null}}},
                  {"mark": {"type": "text", "color": "white", "fontSize": 13.5}, "encoding": {"text": {"field": "rank"}}}
                ]}
             ]},
            {"width": 204, "height": 62, "view": {"stroke": "#e2e2e2", "strokeWidth": 1.5}, "data": {"name": "ranks"}, "transform": [{"filter": "datum.p === 'PROBE(α=0.5)'"}],
             "layer": [
               {"mark": {"type": "rule", "strokeWidth": 2.2}, "encoding": {
                 "x": {"field": "sparse", "type": "quantitative", "scale": {"domain": [-3.985, 11.015], "nice": false, "zero": false}, "axis": null}, "x2": {"field": "full"},
                 "y": {"datum": "sparse", "type": "nominal", "scale": {"type": "point", "domain": ["sparse", "full"], "padding": 0.67}, "axis": {"title": null, "domain": false, "ticks": false, "tickSize": 0, "labelPadding": -10, "labelAlign": "left", "labelFontStyle": "italic", "labelFontSize": 12.5, "grid": false}},
                 "y2": {"datum": "full"},
                 "color": {"field": "m", "type": "nominal", "scale": {"domain": [0, 1, 2, 3, 4, 5, 6, 7, 8, 9], "range": ["#0a3d4e", "#0d9a95", "#6a64bb", "#0a9df5", "#2345c9", "#9a6333", "#7f7f0a", "#ff9c0a", "#a8002c", "#cccc00"]}, "legend": null}}},
               {"transform": [{"fold": ["sparse", "full"], "as": ["row", "rank"]}],
                "encoding": {
                  "x": {"field": "rank", "type": "quantitative", "scale": {"domain": [-3.985, 11.015], "nice": false, "zero": false}, "axis": null},
                  "y": {"field": "row", "type": "nominal", "scale": {"type": "point", "domain": ["sparse", "full"], "padding": 0.67}, "axis": {"title": null, "domain": false, "ticks": false, "tickSize": 0, "labelPadding": -10, "labelAlign": "left", "labelFontStyle": "italic", "labelFontSize": 12.5, "grid": false}}},
                "layer": [
                  {"mark": {"type": "tick", "thickness": 13.6, "size": 14.6, "opacity": 1}, "encoding": {"color": {"field": "m", "type": "nominal", "scale": {"domain": [0, 1, 2, 3, 4, 5, 6, 7, 8, 9], "range": ["#0a3d4e", "#0d9a95", "#6a64bb", "#0a9df5", "#2345c9", "#9a6333", "#7f7f0a", "#ff9c0a", "#a8002c", "#cccc00"]}, "legend": null}}},
                  {"mark": {"type": "text", "color": "white", "fontSize": 13.5}, "encoding": {"text": {"field": "rank"}}}
                ]}
             ]},
            {"width": 204, "height": 62, "view": {"stroke": "#e2e2e2", "strokeWidth": 1.5}, "data": {"name": "ranks"}, "transform": [{"filter": "datum.p === 'PROBE(α=0.0)'"}],
             "layer": [
               {"mark": {"type": "rule", "strokeWidth": 2.2}, "encoding": {
                 "x": {"field": "sparse", "type": "quantitative", "scale": {"domain": [-3.985, 11.015], "nice": false, "zero": false}, "axis": null}, "x2": {"field": "full"},
                 "y": {"datum": "sparse", "type": "nominal", "scale": {"type": "point", "domain": ["sparse", "full"], "padding": 0.67}, "axis": {"title": null, "domain": false, "ticks": false, "tickSize": 0, "labelPadding": -10, "labelAlign": "left", "labelFontStyle": "italic", "labelFontSize": 12.5, "grid": false}},
                 "y2": {"datum": "full"},
                 "color": {"field": "m", "type": "nominal", "scale": {"domain": [0, 1, 2, 3, 4, 5, 6, 7, 8, 9], "range": ["#0a3d4e", "#0d9a95", "#6a64bb", "#0a9df5", "#2345c9", "#9a6333", "#7f7f0a", "#ff9c0a", "#a8002c", "#cccc00"]}, "legend": null}}},
               {"transform": [{"fold": ["sparse", "full"], "as": ["row", "rank"]}],
                "encoding": {
                  "x": {"field": "rank", "type": "quantitative", "scale": {"domain": [-3.985, 11.015], "nice": false, "zero": false}, "axis": null},
                  "y": {"field": "row", "type": "nominal", "scale": {"type": "point", "domain": ["sparse", "full"], "padding": 0.67}, "axis": {"title": null, "domain": false, "ticks": false, "tickSize": 0, "labelPadding": -10, "labelAlign": "left", "labelFontStyle": "italic", "labelFontSize": 12.5, "grid": false}}},
                "layer": [
                  {"mark": {"type": "tick", "thickness": 13.6, "size": 14.6, "opacity": 1}, "encoding": {"color": {"field": "m", "type": "nominal", "scale": {"domain": [0, 1, 2, 3, 4, 5, 6, 7, 8, 9], "range": ["#0a3d4e", "#0d9a95", "#6a64bb", "#0a9df5", "#2345c9", "#9a6333", "#7f7f0a", "#ff9c0a", "#a8002c", "#cccc00"]}, "legend": null}}},
                  {"mark": {"type": "text", "color": "white", "fontSize": 13.5}, "encoding": {"text": {"field": "rank"}}}
                ]}
             ]},
            {"width": 204, "height": 62, "view": {"stroke": "#e2e2e2", "strokeWidth": 1.5}, "data": {"name": "ranks"}, "transform": [{"filter": "datum.p === 'PROBE(α=-0.5)'"}],
             "layer": [
               {"mark": {"type": "rule", "strokeWidth": 2.2}, "encoding": {
                 "x": {"field": "sparse", "type": "quantitative", "scale": {"domain": [-3.985, 11.015], "nice": false, "zero": false}, "axis": null}, "x2": {"field": "full"},
                 "y": {"datum": "sparse", "type": "nominal", "scale": {"type": "point", "domain": ["sparse", "full"], "padding": 0.67}, "axis": {"title": null, "domain": false, "ticks": false, "tickSize": 0, "labelPadding": -10, "labelAlign": "left", "labelFontStyle": "italic", "labelFontSize": 12.5, "grid": false}},
                 "y2": {"datum": "full"},
                 "color": {"field": "m", "type": "nominal", "scale": {"domain": [0, 1, 2, 3, 4, 5, 6, 7, 8, 9], "range": ["#0a3d4e", "#0d9a95", "#6a64bb", "#0a9df5", "#2345c9", "#9a6333", "#7f7f0a", "#ff9c0a", "#a8002c", "#cccc00"]}, "legend": null}}},
               {"transform": [{"fold": ["sparse", "full"], "as": ["row", "rank"]}],
                "encoding": {
                  "x": {"field": "rank", "type": "quantitative", "scale": {"domain": [-3.985, 11.015], "nice": false, "zero": false}, "axis": null},
                  "y": {"field": "row", "type": "nominal", "scale": {"type": "point", "domain": ["sparse", "full"], "padding": 0.67}, "axis": {"title": null, "domain": false, "ticks": false, "tickSize": 0, "labelPadding": -10, "labelAlign": "left", "labelFontStyle": "italic", "labelFontSize": 12.5, "grid": false}}},
                "layer": [
                  {"mark": {"type": "tick", "thickness": 13.6, "size": 14.6, "opacity": 1}, "encoding": {"color": {"field": "m", "type": "nominal", "scale": {"domain": [0, 1, 2, 3, 4, 5, 6, 7, 8, 9], "range": ["#0a3d4e", "#0d9a95", "#6a64bb", "#0a9df5", "#2345c9", "#9a6333", "#7f7f0a", "#ff9c0a", "#a8002c", "#cccc00"]}, "legend": null}}},
                  {"mark": {"type": "text", "color": "white", "fontSize": 13.5}, "encoding": {"text": {"field": "rank"}}}
                ]}
             ]}
          ],
          "spacing": 14, "bounds": "flush"
        }
      ],
      "spacing": 0, "bounds": "flush"
    }
  ]
}
